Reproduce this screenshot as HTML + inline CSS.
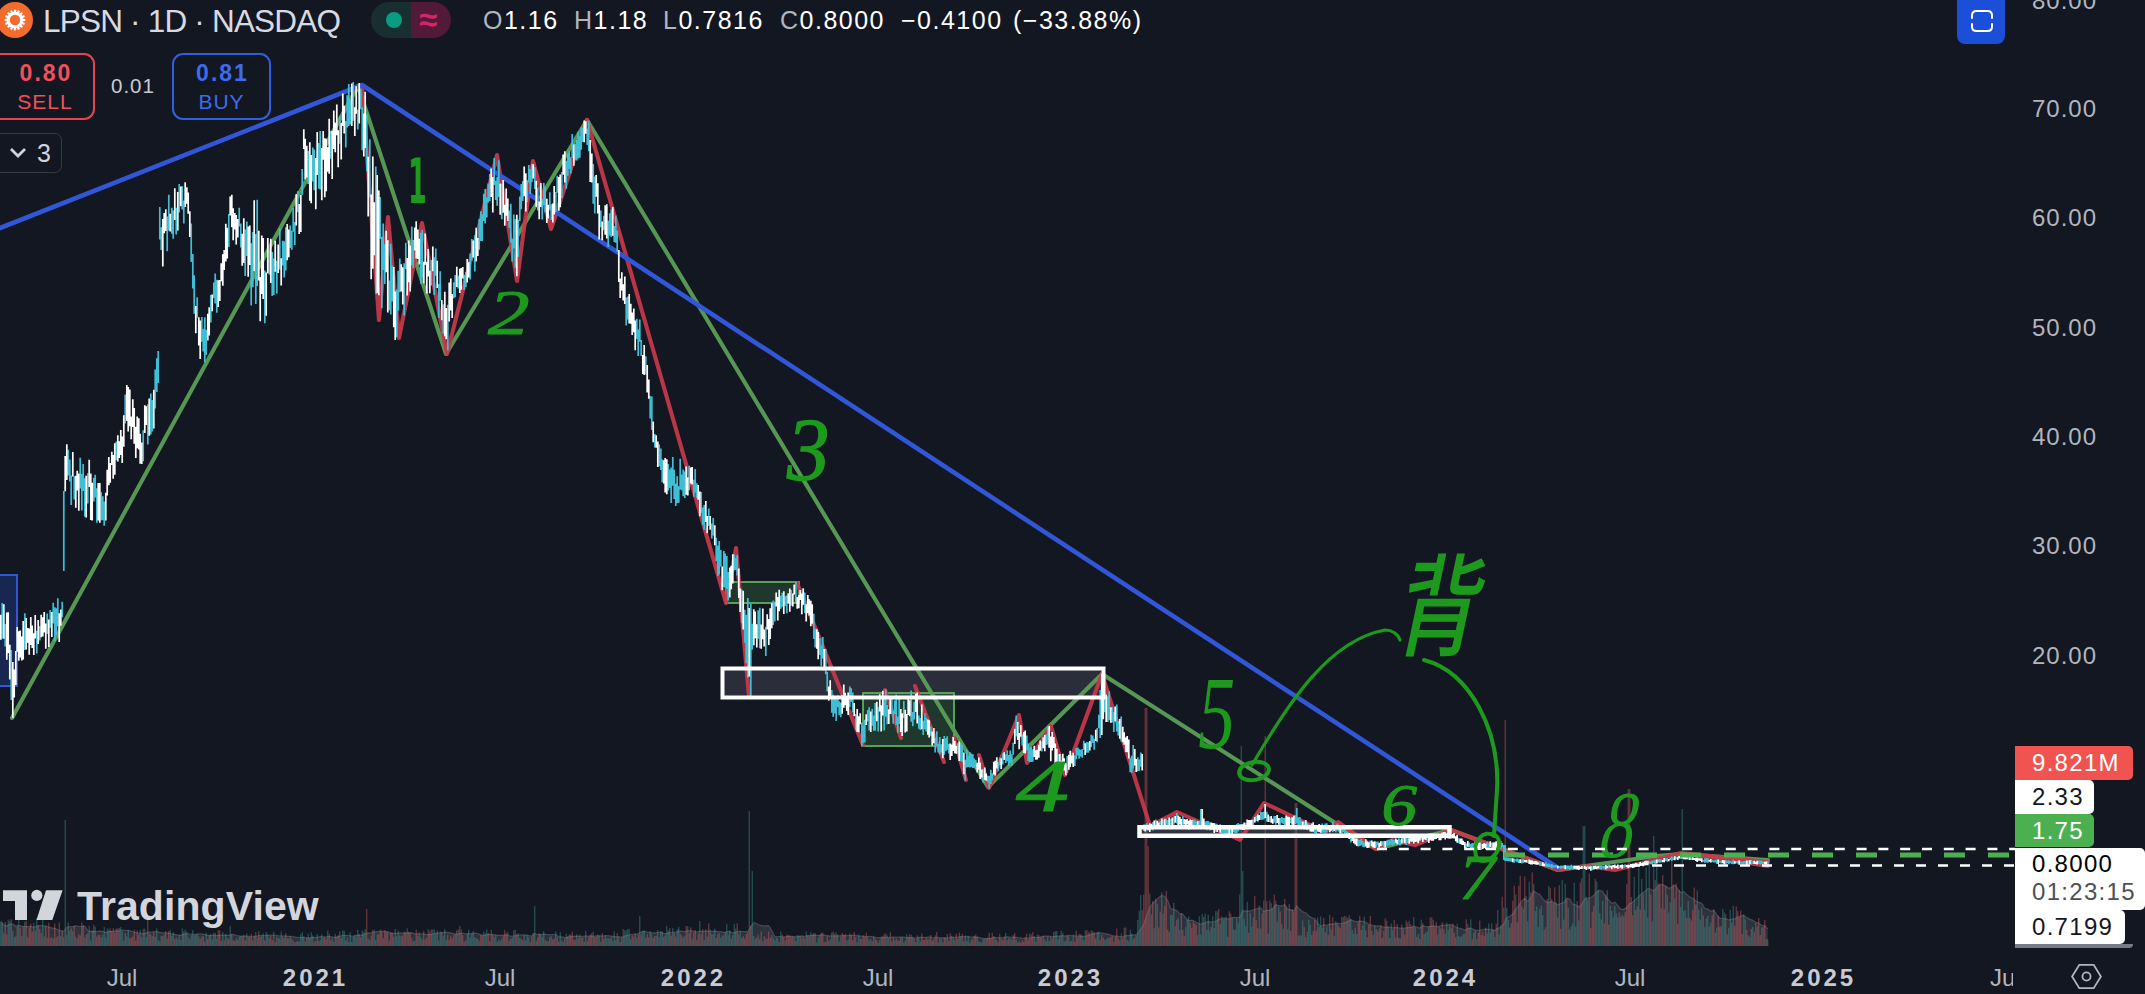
<!DOCTYPE html>
<html><head><meta charset="utf-8"><title>LPSN 1D NASDAQ</title>
<style>
*{margin:0;padding:0;box-sizing:border-box}
html,body{width:2145px;height:994px;overflow:hidden;background:#131722;font-family:"Liberation Sans",Arial,sans-serif;color:#d1d4dc}
.a{position:absolute;white-space:pre;line-height:1}
.pl{position:absolute;left:2032px;font-size:24px;color:#b2b5be;letter-spacing:1px;line-height:1}
.xl{position:absolute;top:966px;font-size:24px;color:#b2b5be;line-height:1;transform:translateX(-50%)}
.xl.b{font-weight:bold;color:#c8cbd4;letter-spacing:3px;margin-left:1.5px}
.rl{position:absolute;left:2015px;font-size:24px;line-height:1;padding-left:17px;letter-spacing:1.3px}
</style></head><body>
<svg width="2145" height="994" viewBox="0 0 2145 994" style="position:absolute;left:0;top:0">
<path d="M0 946L0.8 921.0L3.8 925.1L6.8 926.0L9.8 924.0L12.8 924.0L15.8 926.3L18.8 925.3L21.8 926.1L24.8 926.4L27.8 926.6L30.8 926.4L33.8 927.4L36.8 926.1L39.8 925.5L42.8 925.9L45.8 925.9L48.8 927.2L51.8 927.9L54.8 928.3L57.8 929.7L60.8 930.7L63.8 931.2L66.8 927.4L69.8 926.7L72.8 926.6L75.8 925.7L78.8 926.5L81.8 926.5L84.8 926.2L87.8 930.7L90.8 931.3L93.8 931.1L96.8 931.5L99.8 931.1L102.8 931.3L105.8 932.5L108.8 931.5L111.8 931.5L114.8 930.8L117.8 931.2L120.8 930.0L123.8 930.0L126.8 930.5L129.8 930.7L132.8 931.8L135.8 932.6L138.8 932.9L141.8 933.6L144.8 933.6L147.8 932.1L150.8 932.2L153.8 931.7L156.8 931.6L159.8 932.3L162.8 932.8L165.8 932.8L168.8 933.1L171.8 934.2L174.8 934.3L177.8 934.9L180.8 935.3L183.8 934.1L186.8 933.5L189.8 933.9L192.8 934.2L195.8 934.4L198.8 933.9L201.8 933.9L204.8 934.6L207.8 935.3L210.8 935.4L213.8 935.2L216.8 935.7L219.8 935.1L222.8 935.0L225.8 935.1L228.8 935.3L231.8 934.3L234.8 934.8L237.8 935.7L240.8 936.0L243.8 936.0L246.8 936.1L249.8 936.3L252.8 936.9L255.8 936.4L258.8 935.7L261.8 935.4L264.8 935.5L267.8 934.9L270.8 935.2L273.8 935.2L276.8 935.5L279.8 935.9L282.8 935.9L285.8 936.1L288.8 936.3L291.8 936.4L294.8 936.9L297.8 937.5L300.8 937.6L303.8 937.5L306.8 937.8L309.8 937.8L312.8 937.3L315.8 937.6L318.8 936.9L321.8 936.4L324.8 937.0L327.8 936.5L330.8 936.6L333.8 937.3L336.8 936.8L339.8 936.2L342.8 935.4L345.8 935.3L348.8 935.5L351.8 936.2L354.8 935.8L357.8 935.1L360.8 935.1L363.8 934.6L366.8 933.0L369.8 933.1L372.8 932.4L375.8 931.8L378.8 931.6L381.8 931.4L384.8 931.4L387.8 931.6L390.8 933.4L393.8 933.0L396.8 933.3L399.8 932.8L402.8 933.3L405.8 932.9L408.8 932.8L411.8 932.7L414.8 933.9L417.8 933.9L420.8 934.0L423.8 933.9L426.8 934.6L429.8 934.6L432.8 934.2L435.8 933.0L438.8 933.1L441.8 932.8L444.8 932.0L447.8 932.3L450.8 932.9L453.8 933.7L456.8 934.1L459.8 933.5L462.8 933.0L465.8 934.0L468.8 933.6L471.8 933.4L474.8 933.0L477.8 933.5L480.8 934.7L483.8 935.5L486.8 934.5L489.8 934.6L492.8 934.4L495.8 934.9L498.8 935.3L501.8 935.3L504.8 934.9L507.8 935.0L510.8 936.2L513.8 935.9L516.8 935.4L519.8 935.0L522.8 934.9L525.8 934.9L528.8 935.6L531.8 936.0L534.8 933.4L537.8 934.7L540.8 934.7L543.8 934.1L546.8 934.5L549.8 934.7L552.8 934.5L555.8 934.5L558.8 936.7L561.8 936.8L564.8 937.5L567.8 937.4L570.8 936.4L573.8 936.3L576.8 936.1L579.8 936.4L582.8 936.4L585.8 935.8L588.8 936.2L591.8 936.0L594.8 936.2L597.8 935.6L600.8 935.9L603.8 935.9L606.8 935.5L609.8 935.8L612.8 936.3L615.8 936.8L618.8 936.5L621.8 937.2L624.8 936.1L627.8 935.0L630.8 934.5L633.8 934.2L636.8 934.2L639.8 932.6L642.8 931.6L645.8 931.7L648.8 932.4L651.8 932.9L654.8 932.9L657.8 932.6L660.8 932.3L663.8 933.6L666.8 933.6L669.8 932.7L672.8 932.4L675.8 932.2L678.8 931.1L681.8 931.1L684.8 931.9L687.8 930.5L690.8 930.8L693.8 931.3L696.8 932.0L699.8 931.2L702.8 931.4L705.8 931.1L708.8 931.0L711.8 931.3L714.8 931.1L717.8 931.7L720.8 931.5L723.8 932.6L726.8 931.7L729.8 931.6L732.8 933.1L735.8 932.0L738.8 931.4L741.8 931.5L744.8 931.6L747.8 931.5L750.8 926.8L753.8 922.5L756.8 923.7L759.8 925.2L762.8 925.8L765.8 925.8L768.8 925.7L771.8 930.9L774.8 936.5L777.8 936.5L780.8 936.7L783.8 936.8L786.8 936.6L789.8 936.1L792.8 936.4L795.8 936.8L798.8 936.3L801.8 935.8L804.8 936.4L807.8 935.7L810.8 935.5L813.8 935.2L816.8 935.3L819.8 935.1L822.8 934.7L825.8 935.4L828.8 935.8L831.8 935.9L834.8 935.8L837.8 935.9L840.8 935.7L843.8 935.7L846.8 935.7L849.8 935.4L852.8 935.0L855.8 935.4L858.8 936.1L861.8 936.2L864.8 936.4L867.8 936.5L870.8 936.4L873.8 937.0L876.8 937.5L879.8 937.7L882.8 937.7L885.8 937.2L888.8 937.5L891.8 937.2L894.8 937.0L897.8 937.4L900.8 937.0L903.8 937.2L906.8 937.6L909.8 937.7L912.8 937.8L915.8 938.0L918.8 937.5L921.8 937.1L924.8 937.5L927.8 937.1L930.8 937.2L933.8 938.0L936.8 937.4L939.8 937.6L942.8 937.8L945.8 937.9L948.8 937.7L951.8 937.1L954.8 937.3L957.8 937.2L960.8 936.7L963.8 936.6L966.8 936.4L969.8 936.8L972.8 937.1L975.8 936.9L978.8 937.3L981.8 938.2L984.8 938.7L987.8 938.7L990.8 938.3L993.8 937.4L996.8 937.6L999.8 937.9L1002.8 937.6L1005.8 936.8L1008.8 936.9L1011.8 937.4L1014.8 937.2L1017.8 937.7L1020.8 937.8L1023.8 938.5L1026.8 938.0L1029.8 938.0L1032.8 937.3L1035.8 937.5L1038.8 937.3L1041.8 936.6L1044.8 936.1L1047.8 936.1L1050.8 936.4L1053.8 936.6L1056.8 936.1L1059.8 936.0L1062.8 935.5L1065.8 936.1L1068.8 935.4L1071.8 935.7L1074.8 935.8L1077.8 936.2L1080.8 936.0L1083.8 936.7L1086.8 935.7L1089.8 934.9L1092.8 933.8L1095.8 933.4L1098.8 932.8L1101.8 933.1L1104.8 933.7L1107.8 934.1L1110.8 935.0L1113.8 936.0L1116.8 936.1L1119.8 936.7L1122.8 936.7L1125.8 935.5L1128.8 935.6L1131.8 934.8L1134.8 935.1L1137.8 933.4L1140.8 929.2L1143.8 924.3L1146.8 915.0L1149.8 907.4L1152.8 903.5L1155.8 900.3L1158.8 897.4L1161.8 895.5L1164.8 896.5L1167.8 900.7L1170.8 908.7L1173.8 909.4L1176.8 910.6L1179.8 913.8L1182.8 914.0L1185.8 918.0L1188.8 920.8L1191.8 920.1L1194.8 921.2L1197.8 923.3L1200.8 924.2L1203.8 923.4L1206.8 921.8L1209.8 921.7L1212.8 922.0L1215.8 921.3L1218.8 919.3L1221.8 918.5L1224.8 917.8L1227.8 919.4L1230.8 918.0L1233.8 917.3L1236.8 917.5L1239.8 917.1L1242.8 910.4L1245.8 911.1L1248.8 911.1L1251.8 910.5L1254.8 909.2L1257.8 908.5L1260.8 908.0L1263.8 911.8L1266.8 910.1L1269.8 910.6L1272.8 908.2L1275.8 904.8L1278.8 905.6L1281.8 905.8L1284.8 904.8L1287.8 909.6L1290.8 909.6L1293.8 910.9L1296.8 905.9L1299.8 909.3L1302.8 911.9L1305.8 912.7L1308.8 916.0L1311.8 917.8L1314.8 918.6L1317.8 923.5L1320.8 926.4L1323.8 924.6L1326.8 925.4L1329.8 924.1L1332.8 924.2L1335.8 923.6L1338.8 923.5L1341.8 923.5L1344.8 922.7L1347.8 921.6L1350.8 919.7L1353.8 921.1L1356.8 921.7L1359.8 921.2L1362.8 921.3L1365.8 922.2L1368.8 924.3L1371.8 925.2L1374.8 926.0L1377.8 925.9L1380.8 925.8L1383.8 927.4L1386.8 927.2L1389.8 927.0L1392.8 927.9L1395.8 927.3L1398.8 927.9L1401.8 928.1L1404.8 928.1L1407.8 927.7L1410.8 927.5L1413.8 926.2L1416.8 927.2L1419.8 928.0L1422.8 925.6L1425.8 926.5L1428.8 926.7L1431.8 926.1L1434.8 925.9L1437.8 926.8L1440.8 925.7L1443.8 925.2L1446.8 925.1L1449.8 924.5L1452.8 925.0L1455.8 927.3L1458.8 928.0L1461.8 928.8L1464.8 930.0L1467.8 928.6L1470.8 928.2L1473.8 929.6L1476.8 930.5L1479.8 930.0L1482.8 929.6L1485.8 929.1L1488.8 929.4L1491.8 929.7L1494.8 930.3L1497.8 928.2L1500.8 927.3L1503.8 923.8L1506.8 917.2L1509.8 916.3L1512.8 914.0L1515.8 909.0L1518.8 905.3L1521.8 900.9L1524.8 898.3L1527.8 901.4L1530.8 897.6L1533.8 891.0L1536.8 893.1L1539.8 894.5L1542.8 898.7L1545.8 901.6L1548.8 902.5L1551.8 901.4L1554.8 903.1L1557.8 904.9L1560.8 903.5L1563.8 902.4L1566.8 898.1L1569.8 898.9L1572.8 904.3L1575.8 904.8L1578.8 907.0L1581.8 904.1L1584.8 898.7L1587.8 898.2L1590.8 897.8L1593.8 895.2L1596.8 891.9L1599.8 890.2L1602.8 891.4L1605.8 896.6L1608.8 900.2L1611.8 903.2L1614.8 902.1L1617.8 905.3L1620.8 909.4L1623.8 909.3L1626.8 907.3L1629.8 903.6L1632.8 902.3L1635.8 899.4L1638.8 896.3L1641.8 893.4L1644.8 891.5L1647.8 888.5L1650.8 889.2L1653.8 890.9L1656.8 887.7L1659.8 884.3L1662.8 884.7L1665.8 886.2L1668.8 888.3L1671.8 887.2L1674.8 884.9L1677.8 889.2L1680.8 892.6L1683.8 891.4L1686.8 894.4L1689.8 897.1L1692.8 898.2L1695.8 901.1L1698.8 902.4L1701.8 903.3L1704.8 908.2L1707.8 909.1L1710.8 911.3L1713.8 910.3L1716.8 914.7L1719.8 918.1L1722.8 918.5L1725.8 918.8L1728.8 919.9L1731.8 919.2L1734.8 918.8L1737.8 917.0L1740.8 915.9L1743.8 915.6L1746.8 917.5L1749.8 919.1L1752.8 920.4L1755.8 922.3L1758.8 923.1L1761.8 925.5L1764.8 925.7L1767.8 928.8L1767.8 946Z" fill="rgba(120,123,134,0.28)"/>
<path d="M0.8 921.0L3.8 925.1L6.8 926.0L9.8 924.0L12.8 924.0L15.8 926.3L18.8 925.3L21.8 926.1L24.8 926.4L27.8 926.6L30.8 926.4L33.8 927.4L36.8 926.1L39.8 925.5L42.8 925.9L45.8 925.9L48.8 927.2L51.8 927.9L54.8 928.3L57.8 929.7L60.8 930.7L63.8 931.2L66.8 927.4L69.8 926.7L72.8 926.6L75.8 925.7L78.8 926.5L81.8 926.5L84.8 926.2L87.8 930.7L90.8 931.3L93.8 931.1L96.8 931.5L99.8 931.1L102.8 931.3L105.8 932.5L108.8 931.5L111.8 931.5L114.8 930.8L117.8 931.2L120.8 930.0L123.8 930.0L126.8 930.5L129.8 930.7L132.8 931.8L135.8 932.6L138.8 932.9L141.8 933.6L144.8 933.6L147.8 932.1L150.8 932.2L153.8 931.7L156.8 931.6L159.8 932.3L162.8 932.8L165.8 932.8L168.8 933.1L171.8 934.2L174.8 934.3L177.8 934.9L180.8 935.3L183.8 934.1L186.8 933.5L189.8 933.9L192.8 934.2L195.8 934.4L198.8 933.9L201.8 933.9L204.8 934.6L207.8 935.3L210.8 935.4L213.8 935.2L216.8 935.7L219.8 935.1L222.8 935.0L225.8 935.1L228.8 935.3L231.8 934.3L234.8 934.8L237.8 935.7L240.8 936.0L243.8 936.0L246.8 936.1L249.8 936.3L252.8 936.9L255.8 936.4L258.8 935.7L261.8 935.4L264.8 935.5L267.8 934.9L270.8 935.2L273.8 935.2L276.8 935.5L279.8 935.9L282.8 935.9L285.8 936.1L288.8 936.3L291.8 936.4L294.8 936.9L297.8 937.5L300.8 937.6L303.8 937.5L306.8 937.8L309.8 937.8L312.8 937.3L315.8 937.6L318.8 936.9L321.8 936.4L324.8 937.0L327.8 936.5L330.8 936.6L333.8 937.3L336.8 936.8L339.8 936.2L342.8 935.4L345.8 935.3L348.8 935.5L351.8 936.2L354.8 935.8L357.8 935.1L360.8 935.1L363.8 934.6L366.8 933.0L369.8 933.1L372.8 932.4L375.8 931.8L378.8 931.6L381.8 931.4L384.8 931.4L387.8 931.6L390.8 933.4L393.8 933.0L396.8 933.3L399.8 932.8L402.8 933.3L405.8 932.9L408.8 932.8L411.8 932.7L414.8 933.9L417.8 933.9L420.8 934.0L423.8 933.9L426.8 934.6L429.8 934.6L432.8 934.2L435.8 933.0L438.8 933.1L441.8 932.8L444.8 932.0L447.8 932.3L450.8 932.9L453.8 933.7L456.8 934.1L459.8 933.5L462.8 933.0L465.8 934.0L468.8 933.6L471.8 933.4L474.8 933.0L477.8 933.5L480.8 934.7L483.8 935.5L486.8 934.5L489.8 934.6L492.8 934.4L495.8 934.9L498.8 935.3L501.8 935.3L504.8 934.9L507.8 935.0L510.8 936.2L513.8 935.9L516.8 935.4L519.8 935.0L522.8 934.9L525.8 934.9L528.8 935.6L531.8 936.0L534.8 933.4L537.8 934.7L540.8 934.7L543.8 934.1L546.8 934.5L549.8 934.7L552.8 934.5L555.8 934.5L558.8 936.7L561.8 936.8L564.8 937.5L567.8 937.4L570.8 936.4L573.8 936.3L576.8 936.1L579.8 936.4L582.8 936.4L585.8 935.8L588.8 936.2L591.8 936.0L594.8 936.2L597.8 935.6L600.8 935.9L603.8 935.9L606.8 935.5L609.8 935.8L612.8 936.3L615.8 936.8L618.8 936.5L621.8 937.2L624.8 936.1L627.8 935.0L630.8 934.5L633.8 934.2L636.8 934.2L639.8 932.6L642.8 931.6L645.8 931.7L648.8 932.4L651.8 932.9L654.8 932.9L657.8 932.6L660.8 932.3L663.8 933.6L666.8 933.6L669.8 932.7L672.8 932.4L675.8 932.2L678.8 931.1L681.8 931.1L684.8 931.9L687.8 930.5L690.8 930.8L693.8 931.3L696.8 932.0L699.8 931.2L702.8 931.4L705.8 931.1L708.8 931.0L711.8 931.3L714.8 931.1L717.8 931.7L720.8 931.5L723.8 932.6L726.8 931.7L729.8 931.6L732.8 933.1L735.8 932.0L738.8 931.4L741.8 931.5L744.8 931.6L747.8 931.5L750.8 926.8L753.8 922.5L756.8 923.7L759.8 925.2L762.8 925.8L765.8 925.8L768.8 925.7L771.8 930.9L774.8 936.5L777.8 936.5L780.8 936.7L783.8 936.8L786.8 936.6L789.8 936.1L792.8 936.4L795.8 936.8L798.8 936.3L801.8 935.8L804.8 936.4L807.8 935.7L810.8 935.5L813.8 935.2L816.8 935.3L819.8 935.1L822.8 934.7L825.8 935.4L828.8 935.8L831.8 935.9L834.8 935.8L837.8 935.9L840.8 935.7L843.8 935.7L846.8 935.7L849.8 935.4L852.8 935.0L855.8 935.4L858.8 936.1L861.8 936.2L864.8 936.4L867.8 936.5L870.8 936.4L873.8 937.0L876.8 937.5L879.8 937.7L882.8 937.7L885.8 937.2L888.8 937.5L891.8 937.2L894.8 937.0L897.8 937.4L900.8 937.0L903.8 937.2L906.8 937.6L909.8 937.7L912.8 937.8L915.8 938.0L918.8 937.5L921.8 937.1L924.8 937.5L927.8 937.1L930.8 937.2L933.8 938.0L936.8 937.4L939.8 937.6L942.8 937.8L945.8 937.9L948.8 937.7L951.8 937.1L954.8 937.3L957.8 937.2L960.8 936.7L963.8 936.6L966.8 936.4L969.8 936.8L972.8 937.1L975.8 936.9L978.8 937.3L981.8 938.2L984.8 938.7L987.8 938.7L990.8 938.3L993.8 937.4L996.8 937.6L999.8 937.9L1002.8 937.6L1005.8 936.8L1008.8 936.9L1011.8 937.4L1014.8 937.2L1017.8 937.7L1020.8 937.8L1023.8 938.5L1026.8 938.0L1029.8 938.0L1032.8 937.3L1035.8 937.5L1038.8 937.3L1041.8 936.6L1044.8 936.1L1047.8 936.1L1050.8 936.4L1053.8 936.6L1056.8 936.1L1059.8 936.0L1062.8 935.5L1065.8 936.1L1068.8 935.4L1071.8 935.7L1074.8 935.8L1077.8 936.2L1080.8 936.0L1083.8 936.7L1086.8 935.7L1089.8 934.9L1092.8 933.8L1095.8 933.4L1098.8 932.8L1101.8 933.1L1104.8 933.7L1107.8 934.1L1110.8 935.0L1113.8 936.0L1116.8 936.1L1119.8 936.7L1122.8 936.7L1125.8 935.5L1128.8 935.6L1131.8 934.8L1134.8 935.1L1137.8 933.4L1140.8 929.2L1143.8 924.3L1146.8 915.0L1149.8 907.4L1152.8 903.5L1155.8 900.3L1158.8 897.4L1161.8 895.5L1164.8 896.5L1167.8 900.7L1170.8 908.7L1173.8 909.4L1176.8 910.6L1179.8 913.8L1182.8 914.0L1185.8 918.0L1188.8 920.8L1191.8 920.1L1194.8 921.2L1197.8 923.3L1200.8 924.2L1203.8 923.4L1206.8 921.8L1209.8 921.7L1212.8 922.0L1215.8 921.3L1218.8 919.3L1221.8 918.5L1224.8 917.8L1227.8 919.4L1230.8 918.0L1233.8 917.3L1236.8 917.5L1239.8 917.1L1242.8 910.4L1245.8 911.1L1248.8 911.1L1251.8 910.5L1254.8 909.2L1257.8 908.5L1260.8 908.0L1263.8 911.8L1266.8 910.1L1269.8 910.6L1272.8 908.2L1275.8 904.8L1278.8 905.6L1281.8 905.8L1284.8 904.8L1287.8 909.6L1290.8 909.6L1293.8 910.9L1296.8 905.9L1299.8 909.3L1302.8 911.9L1305.8 912.7L1308.8 916.0L1311.8 917.8L1314.8 918.6L1317.8 923.5L1320.8 926.4L1323.8 924.6L1326.8 925.4L1329.8 924.1L1332.8 924.2L1335.8 923.6L1338.8 923.5L1341.8 923.5L1344.8 922.7L1347.8 921.6L1350.8 919.7L1353.8 921.1L1356.8 921.7L1359.8 921.2L1362.8 921.3L1365.8 922.2L1368.8 924.3L1371.8 925.2L1374.8 926.0L1377.8 925.9L1380.8 925.8L1383.8 927.4L1386.8 927.2L1389.8 927.0L1392.8 927.9L1395.8 927.3L1398.8 927.9L1401.8 928.1L1404.8 928.1L1407.8 927.7L1410.8 927.5L1413.8 926.2L1416.8 927.2L1419.8 928.0L1422.8 925.6L1425.8 926.5L1428.8 926.7L1431.8 926.1L1434.8 925.9L1437.8 926.8L1440.8 925.7L1443.8 925.2L1446.8 925.1L1449.8 924.5L1452.8 925.0L1455.8 927.3L1458.8 928.0L1461.8 928.8L1464.8 930.0L1467.8 928.6L1470.8 928.2L1473.8 929.6L1476.8 930.5L1479.8 930.0L1482.8 929.6L1485.8 929.1L1488.8 929.4L1491.8 929.7L1494.8 930.3L1497.8 928.2L1500.8 927.3L1503.8 923.8L1506.8 917.2L1509.8 916.3L1512.8 914.0L1515.8 909.0L1518.8 905.3L1521.8 900.9L1524.8 898.3L1527.8 901.4L1530.8 897.6L1533.8 891.0L1536.8 893.1L1539.8 894.5L1542.8 898.7L1545.8 901.6L1548.8 902.5L1551.8 901.4L1554.8 903.1L1557.8 904.9L1560.8 903.5L1563.8 902.4L1566.8 898.1L1569.8 898.9L1572.8 904.3L1575.8 904.8L1578.8 907.0L1581.8 904.1L1584.8 898.7L1587.8 898.2L1590.8 897.8L1593.8 895.2L1596.8 891.9L1599.8 890.2L1602.8 891.4L1605.8 896.6L1608.8 900.2L1611.8 903.2L1614.8 902.1L1617.8 905.3L1620.8 909.4L1623.8 909.3L1626.8 907.3L1629.8 903.6L1632.8 902.3L1635.8 899.4L1638.8 896.3L1641.8 893.4L1644.8 891.5L1647.8 888.5L1650.8 889.2L1653.8 890.9L1656.8 887.7L1659.8 884.3L1662.8 884.7L1665.8 886.2L1668.8 888.3L1671.8 887.2L1674.8 884.9L1677.8 889.2L1680.8 892.6L1683.8 891.4L1686.8 894.4L1689.8 897.1L1692.8 898.2L1695.8 901.1L1698.8 902.4L1701.8 903.3L1704.8 908.2L1707.8 909.1L1710.8 911.3L1713.8 910.3L1716.8 914.7L1719.8 918.1L1722.8 918.5L1725.8 918.8L1728.8 919.9L1731.8 919.2L1734.8 918.8L1737.8 917.0L1740.8 915.9L1743.8 915.6L1746.8 917.5L1749.8 919.1L1752.8 920.4L1755.8 922.3L1758.8 923.1L1761.8 925.5L1764.8 925.7L1767.8 928.8" fill="none" stroke="rgba(140,143,154,0.35)" stroke-width="1.2"/>
<path d="M3.8 933.3V946.0M5.2 921.9V946.0M6.8 934.6V946.0M11.2 919.2V946.0M15.8 936.5V946.0M17.2 926.4V946.0M20.2 927.8V946.0M23.2 926.6V946.0M26.2 920.9V946.0M27.8 937.3V946.0M29.2 927.8V946.0M30.8 923.7V946.0M32.2 931.8V946.0M35.2 930.7V946.0M38.2 925.4V946.0M41.2 933.1V946.0M44.2 936.5V946.0M45.8 925.9V946.0M48.8 922.8V946.0M50.2 937.6V946.0M53.2 938.5V946.0M54.8 923.4V946.0M56.2 937.4V946.0M59.2 922.4V946.0M62.2 931.1V946.0M63.8 937.3V946.0M71.2 928.4V946.0M74.2 926.2V946.0M78.8 934.1V946.0M80.2 935.7V946.0M81.8 922.4V946.0M83.2 925.1V946.0M86.2 934.6V946.0M93.8 924.9V946.0M96.8 936.6V946.0M98.2 934.9V946.0M99.8 935.0V946.0M110.2 928.4V946.0M111.8 931.0V946.0M113.2 928.2V946.0M114.8 932.9V946.0M116.2 928.6V946.0M119.2 927.8V946.0M125.2 933.1V946.0M129.8 938.2V946.0M131.2 937.7V946.0M132.8 936.6V946.0M134.2 929.7V946.0M135.8 940.5V946.0M137.2 930.7V946.0M138.8 934.8V946.0M143.2 928.7V946.0M147.8 916.0V946.0M150.8 934.4V946.0M153.8 932.4V946.0M155.2 936.7V946.0M162.8 935.9V946.0M165.8 931.0V946.0M168.8 930.9V946.0M171.8 936.0V946.0M174.8 939.1V946.0M183.8 931.3V946.0M189.8 939.2V946.0M195.8 934.6V946.0M200.2 938.6V946.0M203.2 935.9V946.0M204.8 941.9V946.0M207.8 939.0V946.0M209.2 935.3V946.0M218.2 930.2V946.0M219.8 930.0V946.0M221.2 941.0V946.0M224.2 940.3V946.0M228.8 939.0V946.0M231.8 934.4V946.0M233.2 940.1V946.0M234.8 941.1V946.0M237.8 939.9V946.0M242.2 936.3V946.0M243.8 934.9V946.0M245.2 940.1V946.0M248.2 937.3V946.0M249.8 937.0V946.0M251.2 933.8V946.0M254.2 935.3V946.0M258.8 931.1V946.0M260.2 937.0V946.0M264.8 940.6V946.0M270.8 935.8V946.0M272.2 940.2V946.0M275.2 942.1V946.0M276.8 936.7V946.0M282.8 936.8V946.0M285.8 933.2V946.0M287.2 938.1V946.0M290.2 936.2V946.0M294.8 942.2V946.0M297.8 940.8V946.0M299.2 941.8V946.0M306.8 937.4V946.0M309.8 937.9V946.0M314.2 941.9V946.0M315.8 940.9V946.0M318.8 941.0V946.0M324.8 937.1V946.0M326.2 939.3V946.0M329.2 933.7V946.0M330.8 940.1V946.0M335.2 933.9V946.0M338.2 935.1V946.0M341.2 938.0V946.0M345.8 940.4V946.0M359.2 934.2V946.0M360.8 937.2V946.0M366.8 909.0V946.0M371.2 935.6V946.0M372.8 929.8V946.0M378.8 934.1V946.0M380.2 929.5V946.0M381.8 931.5V946.0M383.2 938.2V946.0M384.8 930.2V946.0M386.2 932.1V946.0M389.2 940.6V946.0M390.8 932.1V946.0M392.2 932.9V946.0M402.8 935.3V946.0M404.2 931.5V946.0M405.8 932.5V946.0M408.8 931.7V946.0M410.2 933.1V946.0M413.2 941.4V946.0M416.2 929.7V946.0M417.8 935.5V946.0M422.2 939.4V946.0M423.8 930.9V946.0M426.8 937.4V946.0M428.2 929.4V946.0M429.8 931.3V946.0M431.2 929.6V946.0M437.2 930.5V946.0M441.8 932.0V946.0M447.8 934.6V946.0M449.2 939.8V946.0M450.8 935.8V946.0M452.2 938.4V946.0M455.2 934.2V946.0M456.8 930.3V946.0M459.8 926.0V946.0M461.2 929.4V946.0M462.8 934.9V946.0M464.2 941.7V946.0M465.8 940.4V946.0M479.2 941.2V946.0M480.8 935.0V946.0M482.2 935.6V946.0M488.2 933.0V946.0M489.8 941.5V946.0M491.2 929.8V946.0M492.8 934.9V946.0M497.2 942.0V946.0M503.2 935.7V946.0M504.8 930.0V946.0M506.2 933.4V946.0M510.8 938.8V946.0M516.8 934.1V946.0M521.2 939.1V946.0M522.8 940.3V946.0M530.2 942.1V946.0M531.8 937.1V946.0M533.2 933.0V946.0M536.2 941.1V946.0M537.8 937.5V946.0M539.2 933.0V946.0M545.2 940.1V946.0M546.8 941.3V946.0M549.8 937.2V946.0M552.8 939.4V946.0M554.2 938.7V946.0M557.2 937.2V946.0M558.8 941.8V946.0M564.8 938.4V946.0M567.8 936.3V946.0M569.2 934.5V946.0M570.8 934.6V946.0M572.2 931.7V946.0M573.8 939.8V946.0M575.2 940.1V946.0M578.2 938.5V946.0M579.8 934.6V946.0M582.8 937.4V946.0M588.8 936.8V946.0M590.2 934.7V946.0M591.8 933.1V946.0M594.8 937.0V946.0M596.2 936.9V946.0M602.2 933.1V946.0M603.8 938.6V946.0M611.2 936.9V946.0M617.2 933.1V946.0M620.2 942.0V946.0M623.2 929.1V946.0M632.2 935.3V946.0M635.2 933.7V946.0M638.2 934.7V946.0M641.2 934.1V946.0M647.2 934.1V946.0M648.8 937.3V946.0M653.2 938.2V946.0M654.8 936.0V946.0M657.8 930.1V946.0M663.8 936.9V946.0M665.2 935.5V946.0M669.8 928.2V946.0M671.2 935.6V946.0M674.2 933.0V946.0M675.8 936.5V946.0M680.2 933.5V946.0M683.2 937.7V946.0M686.2 926.1V946.0M689.2 933.3V946.0M690.8 927.2V946.0M693.8 932.9V946.0M695.2 930.0V946.0M696.8 940.2V946.0M698.2 933.7V946.0M702.8 929.0V946.0M705.8 929.1V946.0M708.8 923.4V946.0M711.8 934.2V946.0M716.2 937.8V946.0M717.8 934.2V946.0M725.2 932.6V946.0M731.2 938.8V946.0M735.8 928.6V946.0M737.2 923.3V946.0M741.8 938.1V946.0M743.2 936.1V946.0M744.8 938.6V946.0M746.2 934.0V946.0M747.8 932.1V946.0M750.8 925.7V946.0M756.8 937.4V946.0M759.8 939.2V946.0M761.2 931.5V946.0M764.2 936.4V946.0M767.2 938.6V946.0M768.8 931.5V946.0M770.2 937.9V946.0M773.2 937.4V946.0M779.2 942.2V946.0M782.2 934.8V946.0M783.8 937.2V946.0M786.8 934.6V946.0M788.2 935.2V946.0M789.8 935.6V946.0M791.2 936.8V946.0M792.8 936.3V946.0M795.8 941.0V946.0M800.2 936.1V946.0M804.8 938.5V946.0M807.8 935.2V946.0M809.2 935.7V946.0M812.2 934.4V946.0M813.8 933.1V946.0M821.2 932.9V946.0M822.8 932.5V946.0M824.2 942.3V946.0M825.8 941.9V946.0M827.2 935.6V946.0M828.8 940.8V946.0M833.2 931.6V946.0M834.8 933.7V946.0M837.8 934.5V946.0M842.2 933.0V946.0M843.8 934.9V946.0M845.2 933.9V946.0M849.8 933.4V946.0M851.2 934.9V946.0M852.8 940.2V946.0M854.2 932.1V946.0M860.2 938.7V946.0M863.2 935.4V946.0M864.8 936.9V946.0M866.2 932.6V946.0M872.2 941.6V946.0M873.8 935.7V946.0M876.8 940.3V946.0M882.8 935.8V946.0M884.2 934.2V946.0M890.2 932.3V946.0M891.8 941.6V946.0M893.2 937.2V946.0M896.2 938.5V946.0M899.2 940.6V946.0M900.8 936.9V946.0M905.2 940.6V946.0M908.2 936.9V946.0M909.8 934.3V946.0M911.2 934.9V946.0M914.2 938.7V946.0M917.2 935.3V946.0M921.8 933.4V946.0M923.2 940.1V946.0M924.8 940.0V946.0M926.2 937.5V946.0M927.8 939.5V946.0M930.8 935.0V946.0M932.2 940.4V946.0M933.8 939.2V946.0M936.8 932.1V946.0M941.2 938.6V946.0M944.2 937.3V946.0M947.2 934.0V946.0M948.8 940.9V946.0M950.2 933.3V946.0M956.2 933.7V946.0M959.2 932.5V946.0M962.2 933.9V946.0M963.8 941.4V946.0M969.8 942.6V946.0M972.8 939.3V946.0M974.2 935.8V946.0M975.8 934.5V946.0M983.2 939.0V946.0M986.2 938.5V946.0M987.8 937.4V946.0M989.2 932.8V946.0M990.8 938.3V946.0M992.2 932.8V946.0M996.8 940.0V946.0M998.2 942.4V946.0M999.8 933.8V946.0M1002.8 940.0V946.0M1004.2 937.4V946.0M1008.8 938.4V946.0M1013.2 935.2V946.0M1014.8 932.9V946.0M1017.8 942.5V946.0M1019.2 941.3V946.0M1020.8 942.5V946.0M1022.2 940.3V946.0M1023.8 941.7V946.0M1025.2 937.0V946.0M1026.8 933.7V946.0M1028.2 939.9V946.0M1029.8 933.4V946.0M1031.2 934.4V946.0M1032.8 932.1V946.0M1035.8 941.5V946.0M1038.8 934.5V946.0M1040.2 937.0V946.0M1041.8 937.6V946.0M1043.2 935.9V946.0M1047.8 936.8V946.0M1052.2 938.2V946.0M1053.8 932.1V946.0M1059.8 935.3V946.0M1065.8 940.3V946.0M1067.2 935.0V946.0M1071.8 941.1V946.0M1074.8 941.8V946.0M1076.2 930.7V946.0M1077.8 937.1V946.0M1080.8 934.3V946.0M1086.8 930.0V946.0M1088.2 931.8V946.0M1092.8 931.2V946.0M1094.2 932.3V946.0M1095.8 938.3V946.0M1100.2 940.0V946.0M1101.8 934.9V946.0M1103.2 937.8V946.0M1109.2 938.0V946.0M1110.8 936.7V946.0M1112.2 936.0V946.0M1115.2 936.7V946.0M1116.8 928.6V946.0M1118.2 938.3V946.0M1122.8 938.2V946.0M1124.2 927.8V946.0M1134.8 937.5V946.0M1142.2 909.8V946.0M1143.8 894.7V946.0M1145.2 708.0V946.0M1146.8 708.0V946.0M1148.2 846.0V946.0M1151.2 914.4V946.0M1152.8 901.0V946.0M1155.8 898.6V946.0M1158.8 927.5V946.0M1160.2 911.8V946.0M1164.8 905.6V946.0M1166.2 890.8V946.0M1167.8 929.5V946.0M1169.2 932.0V946.0M1175.2 926.4V946.0M1176.8 919.9V946.0M1181.2 913.0V946.0M1182.8 929.7V946.0M1184.2 935.8V946.0M1190.2 922.9V946.0M1191.8 927.9V946.0M1193.2 921.6V946.0M1194.8 923.5V946.0M1196.2 924.8V946.0M1203.8 917.0V946.0M1211.2 926.9V946.0M1218.8 909.0V946.0M1223.2 919.2V946.0M1227.8 936.7V946.0M1229.2 911.3V946.0M1230.8 913.7V946.0M1233.8 929.8V946.0M1248.8 932.8V946.0M1254.8 895.8V946.0M1256.2 920.2V946.0M1257.8 928.2V946.0M1262.2 913.2V946.0M1265.2 736.0V946.0M1266.8 901.2V946.0M1269.8 900.7V946.0M1274.2 894.7V946.0M1280.2 911.5V946.0M1284.8 899.0V946.0M1289.2 904.1V946.0M1290.8 931.0V946.0M1292.2 909.5V946.0M1293.8 911.9V946.0M1295.2 803.0V946.0M1296.8 803.0V946.0M1301.2 935.6V946.0M1304.2 927.2V946.0M1305.8 937.2V946.0M1311.8 935.1V946.0M1313.2 931.0V946.0M1314.8 920.0V946.0M1316.2 930.5V946.0M1319.2 927.0V946.0M1323.8 917.9V946.0M1325.2 932.4V946.0M1328.2 934.9V946.0M1329.8 914.9V946.0M1332.8 917.3V946.0M1337.2 922.9V946.0M1338.8 926.4V946.0M1340.2 928.1V946.0M1343.2 916.7V946.0M1344.8 915.8V946.0M1347.8 918.0V946.0M1349.2 915.3V946.0M1355.2 927.7V946.0M1358.2 921.6V946.0M1359.8 915.8V946.0M1361.2 930.0V946.0M1365.8 930.3V946.0M1368.8 925.2V946.0M1370.2 915.9V946.0M1371.8 930.7V946.0M1376.2 929.0V946.0M1377.8 931.5V946.0M1380.8 925.8V946.0M1382.2 937.7V946.0M1385.2 918.3V946.0M1386.8 920.8V946.0M1389.8 938.0V946.0M1394.2 920.0V946.0M1397.2 923.9V946.0M1398.8 938.0V946.0M1401.8 924.7V946.0M1403.2 928.8V946.0M1404.8 934.8V946.0M1406.2 920.4V946.0M1407.8 922.7V946.0M1410.8 924.2V946.0M1412.2 926.3V946.0M1416.8 936.9V946.0M1419.8 938.9V946.0M1422.8 923.0V946.0M1430.2 917.3V946.0M1431.8 917.3V946.0M1433.2 919.8V946.0M1434.8 927.2V946.0M1436.2 922.2V946.0M1440.8 928.5V946.0M1442.2 922.4V946.0M1443.8 929.0V946.0M1449.8 924.8V946.0M1452.8 923.6V946.0M1454.2 932.7V946.0M1455.8 937.3V946.0M1461.8 936.3V946.0M1466.2 919.4V946.0M1469.2 927.5V946.0M1472.2 939.3V946.0M1473.8 932.7V946.0M1478.2 933.1V946.0M1479.8 920.6V946.0M1481.2 935.1V946.0M1482.8 931.9V946.0M1484.2 935.9V946.0M1485.8 927.5V946.0M1493.2 929.8V946.0M1496.2 923.6V946.0M1502.2 896.8V946.0M1505.2 720.0V946.0M1509.8 927.6V946.0M1511.2 923.3V946.0M1512.8 900.8V946.0M1514.2 885.8V946.0M1517.2 922.0V946.0M1518.8 885.9V946.0M1520.2 875.9V946.0M1524.8 876.5V946.0M1530.8 892.3V946.0M1532.2 872.4V946.0M1544.2 929.5V946.0M1547.2 899.0V946.0M1550.2 887.9V946.0M1553.2 903.0V946.0M1554.8 887.3V946.0M1557.8 917.6V946.0M1559.2 885.2V946.0M1560.8 928.7V946.0M1563.8 919.6V946.0M1566.8 899.5V946.0M1569.8 929.5V946.0M1577.2 901.0V946.0M1580.2 882.4V946.0M1581.8 878.5V946.0M1589.2 873.7V946.0M1590.8 928.1V946.0M1592.2 911.8V946.0M1593.8 906.2V946.0M1595.2 878.8V946.0M1604.2 923.4V946.0M1607.2 890.2V946.0M1608.8 924.7V946.0M1619.2 912.6V946.0M1620.8 916.7V946.0M1623.8 916.5V946.0M1625.2 912.1V946.0M1626.8 884.2V946.0M1628.2 789.0V946.0M1629.8 789.0V946.0M1631.2 897.0V946.0M1632.8 915.2V946.0M1635.8 910.1V946.0M1637.2 906.5V946.0M1640.2 909.6V946.0M1643.2 894.2V946.0M1650.8 894.4V946.0M1655.2 880.2V946.0M1658.2 883.3V946.0M1659.8 885.1V946.0M1662.8 875.2V946.0M1664.2 909.4V946.0M1665.8 885.8V946.0M1671.8 860.3V946.0M1673.2 884.5V946.0M1676.2 883.7V946.0M1677.8 923.9V946.0M1679.2 890.0V946.0M1686.8 917.8V946.0M1689.8 917.9V946.0M1691.2 920.6V946.0M1692.8 909.9V946.0M1694.2 887.6V946.0M1695.8 904.5V946.0M1703.2 915.4V946.0M1709.2 926.7V946.0M1712.2 915.2V946.0M1713.8 909.5V946.0M1715.2 932.7V946.0M1718.2 916.2V946.0M1719.8 926.9V946.0M1721.2 926.0V946.0M1725.8 914.2V946.0M1727.2 934.5V946.0M1731.8 922.7V946.0M1734.8 925.9V946.0M1736.2 906.4V946.0M1737.8 911.0V946.0M1739.2 917.2V946.0M1740.8 910.6V946.0M1742.2 934.2V946.0M1746.8 929.8V946.0M1751.2 928.9V946.0M1754.2 932.1V946.0M1757.2 926.3V946.0M1758.8 918.0V946.0M1760.2 934.9V946.0M1761.8 927.4V946.0M1764.8 919.9V946.0M1767.8 939.3V946.0" stroke="rgba(240,105,105,0.5)" stroke-width="1"/>
<path d="M0.8 922.2V946.0M2.2 922.9V946.0M8.2 919.5V946.0M9.8 920.9V946.0M12.8 930.9V946.0M14.2 937.3V946.0M18.8 916.5V946.0M21.8 936.0V946.0M24.8 922.1V946.0M33.8 922.9V946.0M36.8 918.3V946.0M39.8 929.1V946.0M42.8 917.7V946.0M47.2 937.9V946.0M51.8 937.5V946.0M57.8 936.2V946.0M60.8 936.1V946.0M65.2 820.0V946.0M66.8 934.8V946.0M68.2 922.4V946.0M69.8 930.8V946.0M72.8 931.2V946.0M75.8 936.6V946.0M77.2 938.3V946.0M84.8 937.5V946.0M87.8 933.3V946.0M89.2 925.8V946.0M90.8 940.6V946.0M92.2 930.5V946.0M95.2 926.8V946.0M101.2 937.5V946.0M102.8 934.6V946.0M104.2 927.0V946.0M105.8 937.3V946.0M107.2 928.5V946.0M108.8 929.7V946.0M117.8 928.3V946.0M120.8 927.0V946.0M122.2 931.0V946.0M123.8 940.6V946.0M126.8 936.3V946.0M128.2 929.7V946.0M140.2 929.9V946.0M141.8 937.1V946.0M144.8 928.7V946.0M146.2 937.2V946.0M149.2 933.3V946.0M152.2 935.8V946.0M156.8 928.4V946.0M158.2 940.0V946.0M159.8 941.3V946.0M161.2 935.8V946.0M164.2 934.6V946.0M167.2 938.8V946.0M170.2 929.8V946.0M173.2 932.2V946.0M176.2 937.4V946.0M177.8 939.4V946.0M179.2 935.2V946.0M180.8 940.0V946.0M182.2 928.5V946.0M185.2 929.7V946.0M186.8 931.8V946.0M188.2 937.1V946.0M191.2 935.3V946.0M192.8 930.0V946.0M194.2 935.2V946.0M197.2 933.7V946.0M198.8 936.4V946.0M201.8 936.5V946.0M206.2 932.7V946.0M210.8 934.2V946.0M212.2 939.4V946.0M213.8 932.8V946.0M215.2 932.9V946.0M216.8 938.6V946.0M222.8 931.9V946.0M225.8 934.0V946.0M227.2 937.9V946.0M230.2 926.0V946.0M236.2 938.2V946.0M239.2 936.7V946.0M240.8 936.1V946.0M246.8 933.6V946.0M252.8 940.4V946.0M255.8 931.9V946.0M257.2 938.0V946.0M261.8 935.6V946.0M263.2 933.4V946.0M266.2 932.1V946.0M267.8 935.2V946.0M269.2 938.3V946.0M273.8 931.7V946.0M278.2 938.1V946.0M279.8 938.3V946.0M281.2 931.4V946.0M284.2 937.9V946.0M288.8 938.2V946.0M291.8 938.6V946.0M293.2 940.6V946.0M296.2 941.8V946.0M300.8 934.0V946.0M302.2 932.0V946.0M303.8 936.1V946.0M305.2 941.4V946.0M308.2 933.7V946.0M311.2 932.2V946.0M312.8 935.4V946.0M317.2 934.0V946.0M320.2 940.2V946.0M321.8 934.3V946.0M323.2 938.0V946.0M327.8 930.5V946.0M332.2 938.0V946.0M333.8 941.5V946.0M336.8 936.8V946.0M339.8 931.3V946.0M342.8 930.4V946.0M344.2 930.7V946.0M347.2 937.3V946.0M348.8 942.1V946.0M350.2 932.2V946.0M351.8 942.1V946.0M353.2 936.9V946.0M354.8 934.8V946.0M356.2 936.9V946.0M357.8 929.8V946.0M362.2 930.4V946.0M363.8 931.8V946.0M365.2 929.2V946.0M368.2 938.6V946.0M369.8 939.9V946.0M374.2 929.7V946.0M375.8 940.0V946.0M377.2 934.3V946.0M387.8 932.0V946.0M393.8 936.8V946.0M395.2 928.9V946.0M396.8 936.0V946.0M398.2 930.7V946.0M399.8 935.5V946.0M401.2 936.3V946.0M407.2 928.3V946.0M411.8 938.4V946.0M414.8 940.7V946.0M419.2 932.1V946.0M420.8 937.2V946.0M425.2 939.4V946.0M432.8 929.7V946.0M434.2 928.9V946.0M435.8 933.5V946.0M438.8 940.6V946.0M440.2 931.2V946.0M443.2 935.8V946.0M444.8 929.2V946.0M446.2 939.8V946.0M453.8 934.7V946.0M458.2 929.4V946.0M467.2 933.8V946.0M468.8 929.7V946.0M470.2 937.3V946.0M471.8 933.8V946.0M473.2 930.9V946.0M474.8 937.4V946.0M476.2 938.2V946.0M477.8 938.9V946.0M483.8 931.4V946.0M485.2 933.3V946.0M486.8 929.4V946.0M494.2 936.8V946.0M495.8 934.6V946.0M498.8 939.9V946.0M500.2 940.9V946.0M501.8 938.8V946.0M507.8 931.7V946.0M509.2 940.8V946.0M512.2 937.6V946.0M513.8 930.3V946.0M515.2 929.8V946.0M518.2 933.2V946.0M519.8 937.8V946.0M524.2 935.0V946.0M525.8 940.3V946.0M527.2 935.2V946.0M528.8 937.2V946.0M534.8 906.0V946.0M540.8 934.1V946.0M542.2 936.8V946.0M543.8 931.1V946.0M548.2 941.2V946.0M551.2 936.2V946.0M555.8 931.4V946.0M560.2 932.2V946.0M561.8 940.5V946.0M563.2 941.7V946.0M566.2 933.6V946.0M576.8 934.3V946.0M581.2 937.7V946.0M584.2 941.6V946.0M585.8 930.9V946.0M587.2 941.3V946.0M593.2 931.7V946.0M597.8 934.6V946.0M599.2 935.8V946.0M600.8 942.0V946.0M605.2 935.5V946.0M606.8 938.2V946.0M608.2 937.9V946.0M609.8 938.9V946.0M612.8 941.1V946.0M614.2 931.5V946.0M615.8 940.2V946.0M618.8 937.3V946.0M621.8 937.5V946.0M624.8 930.1V946.0M626.2 930.5V946.0M627.8 929.0V946.0M629.2 929.2V946.0M630.8 939.2V946.0M633.8 936.7V946.0M636.8 937.9V946.0M639.8 916.0V946.0M642.8 930.6V946.0M644.2 930.4V946.0M645.8 938.0V946.0M650.2 931.0V946.0M651.8 934.3V946.0M656.2 935.9V946.0M659.2 937.7V946.0M660.8 931.1V946.0M662.2 931.4V946.0M666.8 925.9V946.0M668.2 930.4V946.0M672.8 928.1V946.0M677.2 929.2V946.0M678.8 926.8V946.0M681.8 935.6V946.0M684.8 936.0V946.0M687.8 926.0V946.0M692.2 938.6V946.0M699.8 921.0V946.0M701.2 934.4V946.0M704.2 940.0V946.0M707.2 936.6V946.0M710.2 929.3V946.0M713.2 934.1V946.0M714.8 928.7V946.0M719.2 933.1V946.0M720.8 937.8V946.0M722.2 935.4V946.0M723.8 935.2V946.0M726.8 924.2V946.0M728.2 934.6V946.0M729.8 930.3V946.0M732.8 935.2V946.0M734.2 924.0V946.0M738.8 934.4V946.0M740.2 930.7V946.0M749.2 811.0V946.0M752.2 871.0V946.0M753.8 936.3V946.0M755.2 939.0V946.0M758.2 934.7V946.0M762.8 941.2V946.0M765.8 938.7V946.0M771.8 934.9V946.0M774.8 939.9V946.0M776.2 937.3V946.0M777.8 938.2V946.0M780.8 931.6V946.0M785.2 940.6V946.0M794.2 937.1V946.0M797.2 934.9V946.0M798.8 935.6V946.0M801.8 937.6V946.0M803.2 936.2V946.0M806.2 931.6V946.0M810.8 932.1V946.0M815.2 933.3V946.0M816.8 942.4V946.0M818.2 937.6V946.0M819.8 934.9V946.0M830.2 939.5V946.0M831.8 932.5V946.0M836.2 932.3V946.0M839.2 941.6V946.0M840.8 936.5V946.0M846.8 940.4V946.0M848.2 939.5V946.0M855.8 937.0V946.0M857.2 942.3V946.0M858.8 934.4V946.0M861.8 938.8V946.0M867.8 937.1V946.0M869.2 940.5V946.0M870.8 938.8V946.0M875.2 938.5V946.0M878.2 942.7V946.0M879.8 939.9V946.0M881.2 936.6V946.0M885.8 933.3V946.0M887.2 935.3V946.0M888.8 937.9V946.0M894.8 940.3V946.0M897.8 940.7V946.0M902.2 937.3V946.0M903.8 942.5V946.0M906.8 934.4V946.0M912.8 936.6V946.0M915.8 942.0V946.0M918.8 936.8V946.0M920.2 941.6V946.0M929.2 938.8V946.0M935.2 935.3V946.0M938.2 942.4V946.0M939.8 938.4V946.0M942.8 942.0V946.0M945.8 938.1V946.0M951.8 935.8V946.0M953.2 937.9V946.0M954.8 940.2V946.0M957.8 938.9V946.0M960.8 936.2V946.0M965.2 935.3V946.0M966.8 940.7V946.0M968.2 935.9V946.0M971.2 939.4V946.0M977.2 937.1V946.0M978.8 941.6V946.0M980.2 942.1V946.0M981.8 942.6V946.0M984.8 938.7V946.0M993.8 936.1V946.0M995.2 938.8V946.0M1001.2 938.3V946.0M1005.8 933.0V946.0M1007.2 940.3V946.0M1010.2 938.1V946.0M1011.8 939.6V946.0M1016.2 939.5V946.0M1034.2 936.0V946.0M1037.2 934.8V946.0M1044.8 939.4V946.0M1046.2 941.5V946.0M1049.2 941.2V946.0M1050.8 936.7V946.0M1055.2 931.1V946.0M1056.8 930.9V946.0M1058.2 939.4V946.0M1061.2 930.7V946.0M1062.8 932.9V946.0M1064.2 941.5V946.0M1068.8 936.8V946.0M1070.2 941.2V946.0M1073.2 934.5V946.0M1079.2 933.8V946.0M1082.2 935.3V946.0M1083.8 940.0V946.0M1085.2 930.4V946.0M1089.8 933.0V946.0M1091.2 930.5V946.0M1097.2 932.1V946.0M1098.8 931.5V946.0M1104.8 940.0V946.0M1106.2 939.1V946.0M1107.8 937.7V946.0M1113.8 941.7V946.0M1119.8 940.4V946.0M1121.2 933.5V946.0M1125.8 927.4V946.0M1127.2 939.8V946.0M1128.8 941.3V946.0M1130.2 929.7V946.0M1131.8 933.4V946.0M1133.2 939.2V946.0M1136.2 935.3V946.0M1137.8 920.1V946.0M1139.2 911.1V946.0M1140.8 895.2V946.0M1149.8 893.7V946.0M1154.2 928.4V946.0M1157.2 903.9V946.0M1161.8 892.1V946.0M1163.2 913.7V946.0M1170.8 914.8V946.0M1172.2 915.0V946.0M1173.8 903.0V946.0M1178.2 918.1V946.0M1179.8 929.8V946.0M1185.8 927.3V946.0M1187.2 920.0V946.0M1188.8 916.3V946.0M1197.8 935.1V946.0M1199.2 916.3V946.0M1200.8 934.6V946.0M1202.2 914.1V946.0M1205.2 913.6V946.0M1206.8 930.0V946.0M1208.2 914.7V946.0M1209.8 930.7V946.0M1212.8 916.1V946.0M1214.2 928.1V946.0M1215.8 911.1V946.0M1217.2 911.4V946.0M1220.2 924.1V946.0M1221.8 916.3V946.0M1224.8 918.7V946.0M1226.2 916.6V946.0M1232.2 917.7V946.0M1235.2 929.8V946.0M1236.8 917.7V946.0M1238.2 922.5V946.0M1239.8 894.6V946.0M1241.2 746.0V946.0M1242.8 871.0V946.0M1244.2 919.2V946.0M1245.8 926.3V946.0M1247.2 901.7V946.0M1250.2 913.4V946.0M1251.8 926.9V946.0M1253.2 917.4V946.0M1259.2 905.3V946.0M1260.8 928.8V946.0M1263.8 900.7V946.0M1268.2 933.8V946.0M1271.2 903.2V946.0M1272.8 908.6V946.0M1275.8 900.7V946.0M1277.2 921.5V946.0M1278.8 906.8V946.0M1281.8 924.0V946.0M1283.2 928.7V946.0M1286.2 906.7V946.0M1287.8 929.3V946.0M1298.2 935.7V946.0M1299.8 935.3V946.0M1302.8 920.3V946.0M1307.2 931.8V946.0M1308.8 919.8V946.0M1310.2 924.7V946.0M1317.8 917.4V946.0M1320.8 916.4V946.0M1322.2 927.8V946.0M1326.8 926.6V946.0M1331.2 929.5V946.0M1334.2 935.8V946.0M1335.8 921.0V946.0M1341.8 917.0V946.0M1346.2 916.9V946.0M1350.8 918.7V946.0M1352.2 929.9V946.0M1353.8 933.7V946.0M1356.8 934.2V946.0M1362.8 925.3V946.0M1364.2 916.6V946.0M1367.2 937.2V946.0M1373.2 934.9V946.0M1374.8 925.1V946.0M1379.2 928.5V946.0M1383.8 930.9V946.0M1388.2 926.5V946.0M1391.2 923.5V946.0M1392.8 930.2V946.0M1395.8 937.4V946.0M1400.2 938.2V946.0M1409.2 920.7V946.0M1413.8 917.0V946.0M1415.2 927.1V946.0M1418.2 933.9V946.0M1421.2 919.6V946.0M1424.2 934.0V946.0M1425.8 932.5V946.0M1427.2 931.4V946.0M1428.8 926.4V946.0M1437.8 934.7V946.0M1439.2 927.2V946.0M1445.2 933.7V946.0M1446.8 922.6V946.0M1448.2 929.7V946.0M1451.2 927.7V946.0M1457.2 923.7V946.0M1458.8 935.7V946.0M1460.2 936.9V946.0M1463.2 934.1V946.0M1464.8 933.7V946.0M1467.8 923.5V946.0M1470.8 919.3V946.0M1475.2 930.4V946.0M1476.8 939.1V946.0M1487.2 933.3V946.0M1488.8 923.5V946.0M1490.2 932.5V946.0M1491.8 923.2V946.0M1494.8 936.9V946.0M1497.8 910.0V946.0M1499.2 934.5V946.0M1500.8 925.1V946.0M1503.8 907.6V946.0M1506.8 907.8V946.0M1508.2 920.0V946.0M1515.8 894.8V946.0M1521.8 905.9V946.0M1523.2 908.6V946.0M1526.2 896.2V946.0M1527.8 921.1V946.0M1529.2 881.8V946.0M1533.8 883.8V946.0M1535.2 911.1V946.0M1536.8 906.6V946.0M1538.2 927.2V946.0M1539.8 909.4V946.0M1541.2 905.6V946.0M1542.8 915.1V946.0M1545.8 927.2V946.0M1548.8 886.1V946.0M1551.8 898.9V946.0M1556.2 902.5V946.0M1562.2 880.1V946.0M1565.2 883.7V946.0M1568.2 908.0V946.0M1571.2 926.4V946.0M1572.8 923.6V946.0M1574.2 882.7V946.0M1575.8 926.6V946.0M1578.8 920.4V946.0M1583.2 826.0V946.0M1584.8 826.0V946.0M1586.2 896.7V946.0M1587.8 900.2V946.0M1596.8 881.4V946.0M1598.2 889.8V946.0M1599.8 913.2V946.0M1601.2 919.3V946.0M1602.8 901.0V946.0M1605.8 894.5V946.0M1610.2 905.8V946.0M1611.8 910.8V946.0M1613.2 917.5V946.0M1614.8 906.1V946.0M1616.2 913.4V946.0M1617.8 917.3V946.0M1622.2 914.9V946.0M1634.2 876.8V946.0M1638.8 868.2V946.0M1641.8 879.0V946.0M1644.8 909.9V946.0M1646.2 867.5V946.0M1647.8 917.8V946.0M1649.2 859.1V946.0M1652.2 921.3V946.0M1653.8 836.0V946.0M1656.8 864.7V946.0M1661.2 908.2V946.0M1667.2 894.8V946.0M1668.8 912.5V946.0M1670.2 902.3V946.0M1674.8 898.2V946.0M1680.8 906.9V946.0M1682.2 809.0V946.0M1683.8 911.0V946.0M1685.2 910.0V946.0M1688.2 901.0V946.0M1697.2 890.5V946.0M1698.8 909.7V946.0M1700.2 919.4V946.0M1701.8 907.6V946.0M1704.8 927.2V946.0M1706.2 918.7V946.0M1707.8 915.9V946.0M1710.8 922.5V946.0M1716.8 927.8V946.0M1722.8 908.9V946.0M1724.2 912.4V946.0M1728.8 927.7V946.0M1730.2 909.8V946.0M1733.2 905.6V946.0M1743.8 914.2V946.0M1745.2 919.3V946.0M1748.2 935.4V946.0M1749.8 936.7V946.0M1752.8 927.0V946.0M1755.8 922.9V946.0M1763.2 926.9V946.0M1766.2 938.6V946.0" stroke="rgba(70,170,160,0.5)" stroke-width="1"/>
<rect x="-2" y="575" width="19" height="111" fill="rgba(41,98,255,0.22)" stroke="#3157d8" stroke-width="2"/>
<rect x="722.5" y="668.5" width="381" height="29" fill="rgba(120,123,140,0.24)"/>
<rect x="1139.5" y="827.25" width="310" height="8.5" fill="rgba(120,123,140,0.3)"/>
<rect x="726" y="582" width="73" height="21" fill="rgba(76,175,80,0.22)" stroke="#5fae5c" stroke-width="1.8"/>
<rect x="863" y="693" width="91" height="53" fill="rgba(76,175,80,0.22)" stroke="#5fae5c" stroke-width="1.8"/>
<path d="M12 718L358 86L446 354L587 120L988 787L1102 674L1376 849L1451 830L1558 870L1656 856L1681 854L1768 860" fill="none" stroke="#5a9e56" stroke-width="4.1" stroke-linejoin="round" stroke-linecap="round" opacity="0.95"/>
<path d="M362 86L379 320L388 217L399 338L422 223L447 354L497 155L517 281L533 161L551 229L587 120L726 603L736 548L749 697M797 583L863 745M885 690L901 738M915 686L944 762M954 738L966 780M979 755L989 788L1019 715L1027 763L1051 726L1065 775L1102 674L1150 826L1177 812L1240 840L1264 803L1325 832L1338 822L1376 849L1392 840L1415 845L1451 830L1558 870L1587 866L1615 870L1681 853L1768 862M1681 853L1768 866" fill="none" stroke="#c9384a" stroke-width="4.1" stroke-linejoin="round" stroke-linecap="round" opacity="0.92"/>
<path d="M0 228L362 85L1558 868" fill="none" stroke="#3157d8" stroke-width="4.6" stroke-linejoin="round" stroke-linecap="round"/>
<path d="M2.2 603.0V638.4M5.2 624.1V646.4M11.2 650.0V700.0M24.8 613.2V650.0M36.8 630.7V653.5M39.8 626.0V640.6M47.2 613.4V634.0M50.2 610.1V627.7M53.2 602.8V623.5M54.8 607.2V641.0M56.2 608.2V635.3M57.8 598.2V626.4M62.2 601.8V617.2M63.8 491.0V571.0M68.2 449.8V475.6M69.8 459.4V481.4M71.2 475.6V504.9M74.2 476.3V499.6M80.2 457.7V488.6M81.8 473.8V510.4M83.2 464.1V491.1M84.8 478.2V516.8M87.8 473.2V503.5M93.8 477.8V501.4M95.2 474.8V497.4M96.8 488.3V522.7M101.2 492.3V520.3M102.8 496.3V520.2M104.2 501.5V525.7M116.2 441.4V460.3M125.2 394.5V423.5M143.2 430.3V461.3M147.8 404.3V444.4M150.8 393.5V434.5M152.2 400.1V431.5M155.2 369.4V408.6M156.8 358.3V391.9M158.2 351.0V383.1M159.8 207.0V239.6M161.2 227.2V250.1M167.2 216.5V251.2M168.8 194.7V230.6M171.8 207.8V233.8M173.2 210.5V238.8M176.2 207.7V234.4M179.2 184.0V212.5M182.2 185.9V209.5M183.8 200.4V223.6M191.2 223.6V262.1M192.8 253.9V288.5M194.2 275.3V313.7M197.2 297.3V317.7M201.8 317.0V341.8M203.2 328.8V351.6M204.8 317.2V362.6M206.2 329.8V354.7M210.8 294.9V322.5M213.8 282.5V298.1M215.2 273.5V303.6M216.8 279.8V312.7M228.8 214.0V247.1M239.2 207.7V226.6M240.8 223.6V247.4M245.2 229.3V276.0M246.8 221.6V256.0M251.2 243.2V305.6M252.8 232.0V287.3M255.8 233.9V304.0M257.2 199.8V286.0M264.8 270.6V323.2M269.2 250.3V274.5M272.2 251.9V295.9M273.8 258.6V295.1M276.8 260.7V293.6M279.8 228.2V269.6M282.8 240.8V265.4M284.2 241.3V277.6M285.8 227.2V270.4M290.2 225.4V248.0M291.8 230.8V249.7M293.2 208.1V231.7M294.8 222.0V245.0M297.8 191.2V212.2M302.2 169.0V195.3M308.2 151.0V183.9M312.8 147.4V181.5M314.2 149.5V190.3M318.8 143.0V188.8M320.2 130.9V189.5M330.8 131.1V158.8M339.8 115.8V143.7M345.8 121.1V147.6M347.2 95.2V127.6M348.8 84.0V125.9M350.2 99.5V124.5M353.2 82.0V120.9M357.8 109.8V129.4M360.8 88.7V109.2M362.2 107.3V150.2M366.8 114.2V171.3M369.8 139.2V197.3M375.8 166.5V293.8M380.2 197.0V238.9M381.8 236.7V308.3M383.2 223.6V269.9M384.8 244.2V284.1M389.2 280.5V310.3M390.8 243.8V314.4M392.2 265.6V301.5M396.8 289.5V337.2M398.2 270.8V310.8M399.8 258.6V292.2M404.2 263.2V315.4M405.8 242.8V268.9M411.8 226.5V265.6M413.2 239.9V268.1M420.8 232.7V283.8M422.2 230.1V277.3M431.2 260.0V285.6M434.2 257.3V295.1M435.8 248.6V275.7M438.8 284.0V318.1M440.2 271.3V300.7M443.2 304.2V333.7M447.8 304.8V350.2M453.8 282.3V298.3M455.2 275.1V297.2M458.2 275.7V288.6M464.2 274.9V290.1M465.8 271.9V287.0M470.2 253.4V279.6M471.8 239.0V260.5M474.8 235.3V271.4M479.2 219.1V249.8M480.8 211.2V241.0M482.2 214.3V240.9M483.8 193.8V221.0M485.2 189.0V223.6M486.8 197.4V217.6M488.2 183.4V202.4M489.8 174.1V201.0M494.2 158.1V185.1M495.8 180.7V199.9M497.2 176.8V205.7M498.8 160.3V197.1M501.8 184.0V219.2M509.2 210.5V228.0M510.8 203.7V242.4M512.2 238.7V261.5M513.8 214.5V248.6M515.2 219.1V267.7M518.2 219.4V257.1M519.8 196.5V221.0M521.2 183.9V209.3M522.8 180.9V201.1M527.2 180.2V202.0M528.8 164.9V182.5M530.2 169.1V194.1M531.8 163.8V182.0M534.8 167.3V188.9M537.8 187.6V210.6M542.2 198.7V219.5M543.8 183.0V205.2M545.2 187.0V212.6M549.8 192.2V209.7M551.2 204.3V220.3M555.8 192.1V212.2M557.2 175.8V192.8M561.8 171.9V198.1M566.2 160.7V188.8M567.8 153.4V175.8M569.2 151.0V169.1M570.8 157.2V173.6M572.2 134.1V157.9M575.2 143.4V159.8M576.8 140.1V160.4M578.2 131.7V158.6M579.8 135.8V157.7M581.2 127.2V149.8M582.8 127.8V142.0M587.2 128.6V145.1M588.8 120.7V151.2M593.2 164.1V203.8M594.8 176.4V213.4M600.8 210.5V227.3M603.8 215.8V230.3M608.2 220.8V247.0M609.8 213.2V235.4M611.2 209.6V236.9M614.2 226.1V242.1M615.8 215.5V242.7M617.2 230.5V251.4M626.2 297.4V325.4M627.8 296.6V319.6M636.8 318.7V339.0M638.2 329.4V356.0M639.8 319.6V341.7M641.2 340.0V356.1M645.8 356.3V374.5M650.2 395.9V418.4M651.8 396.4V430.0M654.8 434.0V447.6M659.2 444.4V466.3M660.8 448.6V470.0M662.2 459.5V482.2M668.2 463.9V490.6M669.8 469.5V488.1M671.2 467.4V503.0M672.8 456.9V485.7M674.2 469.7V499.1M675.8 483.5V506.1M677.2 476.3V503.1M678.8 486.3V502.8M680.2 458.8V489.5M681.8 474.4V490.2M683.2 469.4V496.2M684.8 471.4V498.0M689.2 465.7V490.3M693.8 479.8V496.7M695.2 469.1V492.4M696.8 483.2V497.9M701.2 492.0V513.1M702.8 507.5V525.1M704.2 505.0V529.8M708.8 508.5V525.7M711.8 523.5V538.5M713.2 517.9V535.6M716.2 537.8V561.2M717.8 545.5V576.0M719.2 541.0V574.2M720.8 549.9V566.8M723.8 551.1V586.9M725.2 553.5V588.1M726.8 556.0V589.1M728.2 571.9V600.4M734.2 554.4V570.5M735.8 557.7V570.1M737.2 555.1V575.6M741.8 589.6V623.2M744.8 609.8V642.7M746.2 614.7V663.2M747.8 598.0V677.8M750.8 604.0V697.0M752.2 623.7V649.5M758.2 610.2V638.7M759.8 607.8V648.3M765.8 626.7V655.9M773.2 600.4V625.0M774.8 602.2V621.6M780.8 595.7V608.8M782.2 592.7V606.7M785.2 595.9V606.1M786.8 595.4V613.3M791.2 589.9V605.7M795.8 581.4V602.9M804.8 592.4V613.1M813.8 613.8V638.9M815.2 628.6V647.5M819.8 638.2V654.9M821.2 645.4V666.0M822.8 637.1V658.6M825.8 649.1V674.2M827.2 671.9V691.5M831.8 689.9V712.7M833.2 694.8V717.0M834.8 698.6V713.6M836.2 699.3V721.0M837.8 695.2V707.3M839.2 701.3V715.3M840.8 702.6V717.2M849.8 686.4V707.1M851.2 688.2V702.1M852.8 692.6V712.6M855.8 714.1V730.3M861.8 722.6V746.4M863.2 725.8V742.7M864.8 719.7V742.5M867.8 709.9V721.4M869.2 707.3V730.4M872.2 708.8V725.7M873.8 715.5V730.7M875.2 703.1V730.7M878.2 707.2V731.6M884.2 696.9V730.6M885.8 689.4V716.8M887.2 705.1V724.2M891.8 696.7V714.1M893.2 710.6V723.7M894.8 700.6V714.3M896.2 694.5V724.9M897.8 716.5V732.7M899.2 695.7V723.9M903.8 701.1V718.1M911.2 690.6V721.7M912.8 712.0V726.3M914.2 701.8V719.5M918.8 715.4V728.7M920.2 718.1V730.0M923.2 720.8V734.9M924.8 713.3V729.3M926.2 717.7V731.5M930.8 726.5V735.8M935.2 737.8V752.6M936.8 731.2V746.3M938.2 743.9V752.6M939.8 737.0V754.3M941.2 744.2V752.6M944.2 736.0V754.8M945.8 738.2V751.3M947.2 736.3V749.8M948.8 744.1V753.5M957.8 743.2V753.8M960.8 743.0V761.0M962.2 744.9V762.0M965.2 759.7V780.6M966.8 749.9V767.4M968.2 755.9V766.9M969.8 752.0V767.5M971.2 753.6V767.1M972.8 754.2V768.0M974.2 758.6V767.7M975.8 760.1V769.0M983.2 768.9V782.8M987.8 775.8V782.5M989.2 775.9V788.6M990.8 769.8V784.1M992.2 773.2V780.3M998.2 762.2V771.2M999.8 757.5V765.0M1002.8 753.7V764.6M1005.8 754.2V763.1M1007.2 750.3V761.3M1008.8 754.9V766.1M1010.2 750.6V763.0M1011.8 754.2V765.7M1013.2 742.8V754.8M1016.2 715.6V736.6M1022.2 734.4V745.4M1026.8 735.4V750.2M1028.2 743.5V760.9M1029.8 747.6V762.0M1031.2 746.9V762.0M1032.8 749.2V761.8M1041.8 741.8V751.4M1046.2 734.2V744.9M1047.8 727.1V744.6M1058.2 754.6V770.0M1067.2 756.0V772.9M1074.8 755.4V765.9M1076.2 748.1V759.2M1077.8 747.4V755.6M1079.2 749.3V758.8M1080.8 749.7V756.6M1082.2 748.9V757.8M1083.8 740.8V749.7M1086.8 741.9V752.7M1088.2 742.2V752.7M1091.2 734.8V747.1M1092.8 735.5V743.1M1094.2 738.8V749.8M1097.2 728.1V742.3M1098.8 714.8V728.2M1100.2 690.0V738.0M1104.8 691.7V712.2M1107.8 696.3V722.0M1109.2 691.2V720.2M1112.2 707.2V722.5M1113.8 711.9V732.1M1116.8 704.5V731.6M1118.2 721.3V735.5M1121.2 716.6V741.5M1130.2 758.3V772.2M1131.8 755.8V772.7M1133.2 745.0V768.6M1137.8 757.3V771.3M1139.2 759.5V770.9M1140.8 752.5V766.8M1143.8 824.4V830.9M1146.8 822.9V830.4M1152.8 822.2V830.5M1155.8 819.4V827.9M1160.2 820.9V828.1M1163.2 819.8V825.0M1166.2 819.1V827.8M1167.8 819.8V826.9M1170.8 818.8V826.4M1173.8 816.6V824.8M1176.8 813.0V823.6M1182.8 816.2V825.3M1193.2 819.5V825.7M1194.8 819.4V825.9M1196.2 821.4V827.2M1199.2 820.7V827.6M1200.8 809.0V828.2M1205.2 821.4V826.6M1206.8 821.1V830.3M1208.2 821.0V829.3M1209.8 822.3V830.6M1215.8 823.4V831.8M1221.8 825.4V833.2M1223.2 825.1V832.9M1224.8 826.2V833.8M1226.2 826.2V834.1M1227.8 827.1V834.1M1230.8 829.1V834.6M1233.8 826.1V832.3M1235.2 826.4V832.9M1236.8 823.9V833.2M1238.2 822.9V831.6M1239.8 823.9V829.5M1245.8 822.7V828.3M1253.2 819.4V825.2M1256.2 815.8V821.0M1260.8 811.8V820.1M1262.2 811.9V819.7M1263.8 811.7V819.5M1266.8 811.8V821.5M1269.8 816.6V821.9M1274.2 816.0V822.5M1275.8 816.1V824.8M1280.2 818.0V825.4M1281.8 817.0V822.8M1283.2 818.0V824.0M1284.8 817.8V826.5M1290.8 818.0V823.3M1295.2 815.3V823.9M1296.8 808.0V823.6M1298.2 817.5V825.4M1299.8 817.1V825.8M1301.2 820.5V827.1M1304.2 821.4V829.7M1307.2 822.8V830.3M1308.8 823.4V829.2M1314.8 825.9V832.9M1316.2 825.0V834.5M1322.2 823.6V832.7M1323.8 826.6V832.4M1325.2 823.4V832.8M1326.8 823.3V832.6M1328.2 825.1V830.2M1332.8 822.1V832.0M1335.8 827.2V832.3M1337.2 823.4V830.8M1338.8 825.9V831.7M1341.8 825.6V835.0M1343.2 827.0V832.3M1344.8 827.6V834.4M1346.2 831.3V837.5M1347.8 831.9V837.5M1350.8 836.1V842.5M1358.2 840.0V846.5M1359.8 840.0V846.1M1361.2 839.0V845.2M1362.8 840.9V846.8M1364.2 842.4V847.0M1370.2 840.6V845.6M1376.2 841.7V847.1M1377.8 841.4V845.6M1382.2 841.3V845.5M1383.8 840.9V846.5M1386.8 840.4V845.9M1388.2 839.7V845.2M1389.8 840.3V844.4M1391.2 839.0V844.6M1392.8 839.7V845.7M1394.2 840.0V844.2M1398.8 837.7V844.5M1400.2 839.3V845.6M1403.2 837.6V842.6M1406.2 837.8V845.0M1407.8 836.8V842.9M1421.2 835.2V840.0M1427.2 837.0V841.6M1437.8 833.4V837.7M1446.8 833.7V838.1M1451.2 834.4V838.8M1458.8 838.3V843.2M1466.2 843.4V849.2M1469.2 842.4V847.0M1470.8 843.9V849.3M1472.2 843.1V849.0M1473.8 843.2V848.0M1481.2 843.7V849.9M1487.2 841.7V849.0M1488.8 843.3V848.6M1491.8 842.4V848.8M1497.8 841.6V849.4M1499.2 841.9V849.4M1500.8 841.1V849.0M1502.2 843.0V847.0M1503.8 845.0V860.1M1505.2 845.0V861.1M1506.8 857.5V861.1M1508.2 857.6V861.2M1509.8 857.9V861.2M1511.2 858.0V861.8M1514.2 858.4V862.8M1515.8 859.2V861.3M1517.2 858.3V862.3M1518.8 859.2V862.9M1521.8 859.3V863.4M1523.2 858.8V863.0M1527.8 859.8V862.9M1539.8 861.3V865.4M1541.2 862.4V866.0M1545.8 862.3V866.6M1547.2 863.8V867.1M1548.8 863.4V866.9M1550.2 864.6V867.0M1551.8 864.0V868.3M1553.2 865.2V867.5M1554.8 865.4V867.6M1556.2 865.0V867.6M1559.2 866.2V868.2M1560.8 865.6V868.7M1562.2 865.7V868.0M1563.8 865.2V868.6M1566.8 865.5V868.9M1568.2 865.5V869.0M1569.8 865.7V870.0M1571.2 864.7V869.3M1572.8 865.8V869.6M1583.2 866.4V868.5M1587.8 865.5V869.6M1592.2 866.2V870.3M1599.8 865.4V868.9M1601.2 865.8V869.5M1602.8 866.2V868.4M1604.2 866.1V868.7M1608.8 864.6V868.5M1619.2 865.0V868.6M1623.8 864.9V867.5M1625.2 864.3V867.2M1637.2 863.1V866.0M1638.8 863.1V866.8M1649.2 861.5V863.7M1650.8 861.5V864.2M1652.2 860.7V864.5M1653.8 860.4V863.1M1655.2 859.8V864.4M1658.2 859.6V862.5M1659.8 859.0V862.8M1661.2 859.4V862.2M1665.8 858.2V861.0M1667.2 858.0V861.8M1670.2 857.6V860.1M1671.8 856.6V861.1M1673.2 857.3V859.9M1676.2 856.7V859.2M1680.8 855.1V858.9M1688.2 855.5V859.8M1691.2 857.4V859.9M1703.2 859.8V861.8M1704.8 858.2V862.7M1706.2 858.2V862.4M1707.8 858.3V862.8M1712.2 859.8V862.1M1713.8 860.2V862.6M1715.2 859.9V862.5M1716.8 859.7V864.0M1719.8 860.7V862.8M1721.2 860.5V863.6M1725.8 860.0V864.4M1727.2 860.7V863.3M1728.8 860.3V864.3M1730.2 861.2V863.2M1731.8 861.5V863.9M1733.2 859.7V864.2M1736.2 860.9V863.2M1737.8 861.1V863.5M1740.8 861.2V863.6M1742.2 861.4V864.4M1743.8 860.9V864.5M1745.2 860.9V863.7M1748.2 860.4V864.3M1751.2 859.9V864.5M1752.8 861.3V863.7M1758.8 860.6V864.1M1760.2 860.6V864.5M1761.8 860.8V864.3M1763.2 861.2V863.8M1767.8 860.8V864.7" stroke="#3fbfd6" stroke-width="1.7"/>
<path d="M0.8 614.8V639.8M3.8 604.3V638.7M6.8 612.5V659.8M8.2 612.2V653.2M9.8 644.7V679.6M12.8 662.0V718.0M14.2 669.6V697.6M15.8 651.1V684.9M17.2 627.1V651.7M18.8 631.2V660.7M20.2 630.4V657.6M21.8 636.6V660.4M23.2 621.0V659.4M26.2 618.1V649.6M27.8 627.9V642.8M29.2 628.6V654.7M30.8 616.9V645.0M32.2 625.6V648.1M33.8 633.3V654.9M35.2 615.0V638.4M38.2 619.9V644.0M41.2 614.8V637.2M42.8 617.3V636.4M44.2 611.9V632.4M45.8 623.5V648.8M48.8 619.6V647.1M51.8 611.9V637.1M59.2 613.2V642.0M60.8 609.4V625.7M65.2 456.1V491.3M66.8 444.3V480.1M72.8 452.0V476.6M75.8 475.7V507.8M77.2 470.8V490.5M78.8 473.6V510.8M86.2 475.7V517.6M89.2 459.8V487.1M90.8 473.6V519.9M92.2 482.8V520.6M98.2 482.9V520.5M99.8 483.0V522.7M105.8 492.7V520.6M107.2 469.8V495.4M108.8 457.0V485.3M110.2 463.0V482.8M111.8 451.7V465.0M113.2 454.9V478.8M114.8 443.2V474.8M117.8 435.2V461.6M119.2 441.2V458.0M120.8 429.9V455.1M122.2 436.5V462.9M123.8 415.3V446.8M126.8 385.0V421.0M128.2 386.9V431.4M129.8 389.4V426.2M131.2 416.4V439.2M132.8 399.2V427.0M134.2 407.9V443.8M135.8 426.7V458.0M137.2 416.4V448.3M138.8 418.3V449.4M140.2 433.8V463.8M141.8 442.4V464.1M144.8 405.3V433.1M146.2 406.3V425.1M149.2 398.6V435.8M153.8 389.8V428.5M162.8 219.1V266.4M164.2 213.1V233.2M165.8 209.2V231.1M170.2 213.8V231.5M174.8 188.2V219.9M177.8 192.0V230.4M180.8 186.6V206.2M185.2 182.2V207.1M186.8 187.3V203.8M188.2 192.4V213.7M189.8 211.2V237.1M195.8 305.9V333.2M198.8 317.2V345.4M200.2 320.6V358.9M207.8 313.7V340.4M209.2 307.2V335.6M212.2 294.5V311.3M218.2 280.2V307.0M219.8 280.1V301.1M221.2 263.2V281.2M222.8 254.2V285.8M224.2 249.9V270.0M225.8 223.7V261.5M227.2 227.7V258.5M230.2 196.5V215.4M231.8 194.7V227.2M233.2 208.2V240.2M234.8 213.1V229.4M236.2 214.9V244.6M237.8 219.0V237.4M242.2 233.8V265.7M243.8 218.2V262.9M248.2 226.5V276.8M249.8 225.4V265.1M254.2 200.3V271.3M258.8 230.8V280.6M260.2 277.1V321.2M261.8 235.5V293.9M263.2 238.0V299.1M266.2 272.6V315.8M267.8 238.0V273.3M270.8 238.7V282.9M275.2 240.8V271.8M278.2 244.4V273.1M281.2 258.2V285.6M287.2 224.1V260.3M288.8 229.5V257.2M296.2 194.3V225.5M299.2 204.0V233.9M300.8 195.0V232.0M303.8 129.2V149.1M305.2 138.7V179.2M306.8 145.8V177.4M309.8 142.3V200.7M311.2 155.0V203.3M315.8 158.0V209.2M317.2 132.1V174.9M321.8 148.0V200.2M323.2 130.9V159.8M324.8 138.3V197.2M326.2 138.7V191.2M327.8 147.2V171.7M329.2 118.8V173.7M332.2 130.7V179.1M333.8 110.5V149.0M335.2 122.8V152.2M336.8 104.5V135.3M338.2 130.2V167.2M341.2 122.7V159.5M342.8 93.6V126.1M344.2 105.7V133.4M351.8 83.6V126.0M354.8 107.3V136.1M356.2 86.3V113.8M359.2 82.9V123.5M363.8 113.6V156.6M365.2 91.8V147.9M368.2 156.8V216.4M371.2 194.4V279.2M372.8 156.5V268.7M374.2 202.3V255.2M377.2 175.0V293.3M378.8 190.4V295.2M386.2 230.7V272.2M387.8 240.2V312.4M393.8 267.0V327.2M395.2 291.5V339.9M401.2 264.2V291.5M402.8 267.3V304.4M407.2 258.1V295.6M408.8 240.6V282.2M410.2 245.6V291.5M414.8 227.4V250.5M416.2 221.2V258.6M417.8 229.6V259.0M419.2 238.7V264.4M423.8 261.8V283.2M425.2 233.6V264.7M426.8 261.8V293.5M428.2 248.9V276.6M429.8 270.7V293.2M432.8 246.5V271.3M437.2 260.8V288.1M441.8 299.9V320.3M444.8 291.8V336.3M446.2 308.1V339.3M449.2 282.4V321.5M450.8 278.6V310.5M452.2 294.0V318.0M456.8 266.8V286.9M459.8 268.7V293.1M461.2 267.9V289.7M462.8 267.0V278.4M467.2 259.0V282.5M468.8 262.3V277.6M473.2 240.6V257.5M476.2 227.7V261.4M477.8 237.9V256.1M491.2 168.6V196.9M492.8 177.1V212.6M500.2 183.5V214.7M503.2 179.9V212.8M504.8 204.7V225.7M506.2 188.4V215.7M507.8 198.6V221.1M516.8 214.7V276.2M524.2 166.5V196.3M525.8 173.2V211.6M533.2 164.3V178.5M536.2 180.8V206.8M539.2 201.4V219.3M540.8 183.0V207.0M546.8 198.8V223.0M548.2 204.9V218.6M552.8 203.4V222.6M554.2 186.0V214.4M558.8 177.0V210.8M560.2 174.6V207.2M563.2 154.6V174.8M564.8 151.3V182.5M573.8 144.4V165.8M584.2 120.4V142.3M585.8 121.3V133.7M590.2 140.0V181.9M591.8 153.4V182.6M596.2 175.1V196.8M597.8 183.2V213.6M599.2 204.9V239.4M602.2 221.4V240.3M605.2 205.3V234.8M606.8 204.3V238.5M612.8 206.9V235.8M618.8 250.0V281.9M620.2 278.6V297.9M621.8 272.2V290.6M623.2 284.3V300.6M624.8 276.5V304.1M629.2 294.1V323.5M630.8 303.7V323.8M632.2 312.6V335.0M633.8 308.4V332.2M635.2 320.5V350.3M642.8 355.1V374.1M644.2 345.0V374.9M647.2 365.1V392.6M648.8 379.5V398.8M653.2 421.5V442.3M656.2 435.2V447.7M657.8 441.4V466.9M663.8 460.2V483.4M665.2 458.1V492.4M666.8 459.2V494.3M686.2 466.6V494.7M687.8 477.2V495.4M690.8 467.6V483.5M692.2 466.9V484.4M698.2 485.1V499.8M699.8 491.4V516.2M705.8 501.0V522.1M707.2 515.9V533.2M710.2 516.0V529.8M714.8 525.3V545.2M722.2 566.5V590.3M729.8 567.5V597.4M731.2 565.7V589.3M732.8 554.3V583.5M738.8 568.4V597.9M740.2 588.4V611.9M743.2 590.7V629.6M749.2 608.1V676.5M753.8 609.2V645.2M755.2 611.4V638.3M756.8 624.2V647.6M761.2 624.6V648.8M762.8 608.5V639.2M764.2 629.6V646.4M767.2 614.3V629.5M768.8 618.9V645.0M770.2 608.2V639.0M771.8 603.3V628.2M776.2 592.6V606.5M777.8 597.0V620.5M779.2 589.7V611.2M783.8 591.2V613.9M788.2 593.2V603.2M789.8 588.4V611.7M792.8 593.5V606.6M794.2 584.5V594.6M797.2 597.1V608.7M798.8 595.3V608.2M800.2 589.9V600.0M801.8 593.6V614.3M803.2 588.2V604.8M806.2 604.2V621.5M807.8 595.1V613.0M809.2 599.3V615.5M810.8 600.7V626.2M812.2 604.3V623.8M816.8 629.2V648.8M818.2 632.1V659.2M824.2 649.1V670.2M828.8 686.4V700.8M830.2 680.3V697.0M842.2 695.3V713.7M843.8 684.6V707.7M845.2 692.8V705.1M846.8 696.3V711.1M848.2 692.4V714.9M854.2 703.1V716.3M857.2 708.9V732.0M858.8 716.2V732.2M860.2 713.3V724.3M866.2 714.3V725.1M870.8 711.5V732.0M876.8 701.8V721.3M879.8 694.3V711.4M881.2 705.2V731.4M882.8 690.8V715.5M888.8 709.3V724.1M890.2 699.1V714.0M900.8 709.0V732.1M902.2 713.2V736.1M905.2 709.8V732.4M906.8 714.0V731.5M908.2 697.2V715.1M909.8 700.2V716.3M915.8 693.7V712.0M917.2 692.4V723.4M921.8 704.6V729.2M927.8 719.5V734.8M929.2 720.2V737.6M932.2 731.5V745.5M933.8 727.9V743.2M942.8 739.1V758.3M950.2 743.5V760.0M951.8 744.6V756.0M953.2 736.9V750.9M954.8 740.9V753.3M956.2 745.7V753.8M959.2 741.6V761.0M963.8 752.6V774.3M977.2 762.7V772.5M978.8 757.6V769.7M980.2 762.5V778.9M981.8 769.6V777.5M984.8 767.4V780.1M986.2 773.4V780.8M993.8 761.8V774.5M995.2 760.8V775.5M996.8 757.3V768.4M1001.2 758.2V769.0M1004.2 752.3V759.9M1014.8 728.8V743.9M1017.8 722.0V740.0M1019.2 733.1V749.3M1020.8 725.0V736.7M1023.8 732.0V752.9M1025.2 730.5V753.5M1034.2 745.7V757.0M1035.8 750.6V759.8M1037.2 749.7V759.5M1038.8 744.8V757.7M1040.2 740.4V750.7M1043.2 737.2V748.2M1044.8 734.9V751.3M1049.2 725.9V747.7M1050.8 736.6V761.2M1052.2 732.1V750.4M1053.8 737.0V748.0M1055.2 743.5V765.7M1056.8 748.7V769.6M1059.8 753.9V767.8M1061.2 760.7V774.0M1062.8 753.8V764.6M1064.2 758.3V770.4M1065.8 763.3V775.3M1068.8 754.7V769.7M1070.2 750.7V766.9M1071.8 755.5V763.5M1073.2 752.8V767.1M1085.2 743.3V755.1M1089.8 740.9V750.4M1095.8 729.7V741.1M1101.8 674.0V735.0M1103.2 679.7V719.3M1106.2 694.5V722.0M1110.8 707.2V722.8M1115.2 706.5V721.4M1119.8 719.1V738.8M1122.8 726.8V742.2M1124.2 732.3V744.7M1125.8 737.5V752.0M1127.2 736.0V752.3M1128.8 739.5V758.6M1134.8 749.0V765.6M1136.2 758.9V772.1M1142.2 754.0V770.5M1145.2 824.8V831.4M1148.2 824.7V830.3M1149.8 823.2V832.1M1151.2 824.1V829.3M1154.2 820.4V828.5M1157.2 821.1V827.6M1158.8 822.4V828.3M1161.8 818.5V827.4M1164.8 818.8V828.3M1169.2 817.5V825.6M1172.2 817.6V826.1M1175.2 815.8V822.8M1178.2 815.4V825.0M1179.8 816.7V824.5M1181.2 819.1V824.9M1184.2 819.0V824.4M1185.8 819.5V825.0M1187.2 819.1V824.4M1188.8 820.8V829.4M1190.2 819.5V826.6M1191.8 820.1V828.3M1197.8 821.3V827.2M1202.2 809.0V826.1M1203.8 818.6V827.0M1211.2 822.5V829.7M1212.8 822.9V829.5M1214.2 823.2V833.1M1217.2 824.6V832.0M1218.8 824.9V830.1M1220.2 824.5V832.8M1229.2 828.0V836.5M1232.2 827.1V835.0M1241.2 824.2V829.4M1242.8 824.3V829.9M1244.2 822.6V829.9M1247.2 819.4V827.8M1248.8 820.1V828.5M1250.2 819.9V825.6M1251.8 820.1V826.0M1254.8 817.1V822.5M1257.8 814.6V821.5M1259.2 814.9V820.0M1265.2 804.0V818.0M1268.2 814.5V822.1M1271.2 815.9V822.7M1272.8 818.7V823.8M1277.2 815.1V823.1M1278.8 817.9V824.7M1286.2 815.6V825.0M1287.8 816.6V826.0M1289.2 817.0V825.8M1292.2 817.2V824.7M1293.8 815.8V825.4M1302.8 821.4V829.0M1305.8 819.9V828.7M1310.2 826.3V831.4M1311.8 823.6V831.7M1313.2 822.3V831.8M1317.8 825.2V831.5M1319.2 823.9V832.1M1320.8 826.9V832.7M1329.8 826.5V832.3M1331.2 825.4V830.8M1334.2 825.8V831.0M1340.2 825.7V833.2M1349.2 833.6V839.1M1352.2 836.0V841.0M1353.8 835.7V843.3M1355.2 838.4V844.6M1356.8 838.6V846.0M1365.8 839.2V846.5M1367.2 841.5V848.1M1368.8 842.3V847.8M1371.8 840.4V846.2M1373.2 841.8V847.6M1374.8 841.2V847.9M1379.2 842.7V847.6M1380.8 841.2V846.0M1385.2 841.1V847.4M1395.8 838.4V842.8M1397.2 839.9V844.2M1401.8 838.2V843.5M1404.8 837.3V843.3M1409.2 838.2V843.7M1410.8 837.3V841.5M1412.2 836.4V841.7M1413.8 836.3V843.5M1415.2 834.4V841.9M1416.8 834.3V841.8M1418.2 837.0V843.2M1419.8 835.6V840.7M1422.8 836.3V841.9M1424.2 834.8V839.4M1425.8 834.8V840.0M1428.8 835.7V842.9M1430.2 833.5V840.1M1431.8 833.8V840.7M1433.2 836.3V840.7M1434.8 834.0V839.2M1436.2 834.6V839.0M1439.2 835.3V840.2M1440.8 834.9V840.3M1442.2 832.4V838.2M1443.8 831.9V837.1M1445.2 832.3V839.5M1448.2 833.0V838.5M1449.8 833.4V838.7M1452.8 833.8V838.2M1454.2 833.1V838.5M1455.8 836.2V841.2M1457.2 834.9V842.7M1460.2 838.5V844.0M1461.8 838.4V844.8M1463.2 840.7V845.0M1464.8 842.1V848.6M1467.8 841.0V846.7M1475.2 841.4V848.3M1476.8 840.7V847.7M1478.2 842.9V849.9M1479.8 842.6V849.9M1482.8 844.0V849.0M1484.2 843.1V848.0M1485.8 843.7V849.2M1490.2 841.3V847.2M1493.2 842.5V849.9M1494.8 842.3V849.1M1496.2 841.2V847.9M1512.8 858.3V862.2M1520.2 859.2V863.0M1524.8 860.1V862.3M1526.2 860.1V862.6M1529.2 859.4V863.9M1530.8 860.2V864.4M1532.2 860.4V864.4M1533.8 861.2V863.9M1535.2 860.9V864.5M1536.8 861.3V864.8M1538.2 862.4V864.6M1542.8 862.2V866.1M1544.2 863.7V866.2M1557.8 865.7V868.6M1565.2 865.2V869.3M1574.2 865.8V868.8M1575.8 865.7V868.8M1577.2 866.1V869.5M1578.8 865.7V870.1M1580.2 867.0V869.1M1581.8 865.9V868.9M1584.8 865.8V869.0M1586.2 866.8V870.0M1589.2 866.5V869.0M1590.8 866.2V870.7M1593.8 865.9V869.4M1595.2 865.7V868.9M1596.8 866.4V869.2M1598.2 866.1V868.6M1605.8 865.1V869.5M1607.2 865.7V868.3M1610.2 865.5V867.6M1611.8 865.4V869.2M1613.2 865.1V867.5M1614.8 864.5V868.3M1616.2 865.8V868.1M1617.8 864.5V868.7M1620.8 864.9V867.7M1622.2 864.6V868.7M1626.8 864.9V867.1M1628.2 864.7V868.3M1629.8 864.9V867.2M1631.2 864.2V867.3M1632.8 863.8V867.9M1634.2 863.7V867.4M1635.8 862.7V867.1M1640.2 862.1V866.0M1641.8 863.1V865.7M1643.2 862.2V866.2M1644.8 861.3V865.5M1646.2 860.8V865.3M1647.8 860.8V865.2M1656.8 859.6V863.4M1662.8 859.9V862.2M1664.2 858.0V862.2M1668.8 858.9V861.2M1674.8 856.2V860.3M1677.8 856.7V859.9M1679.2 855.9V858.5M1682.2 855.8V858.4M1683.8 856.0V859.2M1685.2 855.5V859.4M1686.8 857.0V859.2M1689.8 856.8V860.0M1692.8 856.8V860.0M1694.2 857.9V860.0M1695.8 857.7V861.0M1697.2 857.5V862.0M1698.8 858.3V860.7M1700.2 858.3V860.8M1701.8 858.3V862.2M1709.2 859.8V861.8M1710.8 859.0V862.6M1718.2 859.5V864.0M1722.8 860.0V863.3M1724.2 860.4V864.5M1734.8 861.2V863.8M1739.2 860.3V864.7M1746.8 860.5V864.8M1749.8 860.2V864.0M1754.2 860.8V864.1M1755.8 861.8V864.0M1757.2 860.7V864.6M1764.8 861.8V864.3M1766.2 861.6V864.2" stroke="#ffffff" stroke-width="1.7"/>
<rect x="722.5" y="668.5" width="381" height="29" fill="none" stroke="#ffffff" stroke-width="4"/>
<rect x="1139.5" y="827.25" width="310" height="8.5" fill="none" stroke="#ffffff" stroke-width="4.5"/>
<path d="M1504 855H2015" stroke="#4caf50" stroke-width="4.8" stroke-dasharray="21 23"/>
<text x="0" y="0" font-family="'DejaVu Sans', sans-serif" font-weight="bold" font-style="normal" font-size="100" fill="#1d9a1d" transform="matrix(0.2692 0 0 0.6164 408.04 203.00)">1</text>
<text x="0" y="0" font-family="'Liberation Serif', serif" font-weight="normal" font-style="italic" font-size="100" fill="#1d9a1d" stroke="#1d9a1d" stroke-width="1.5" stroke-linejoin="round" transform="matrix(0.8333 0 0 0.6418 488.00 334.36)">2</text>
<text x="0" y="0" font-family="'Liberation Serif', serif" font-weight="normal" font-style="italic" font-size="100" fill="#1d9a1d" stroke="#1d9a1d" stroke-width="1.5" stroke-linejoin="round" transform="matrix(0.8511 0 0 0.8955 787.00 479.10)">3</text>
<text x="0" y="0" font-family="'Liberation Serif', serif" font-weight="normal" font-style="italic" font-size="100" fill="#1d9a1d" stroke="#1d9a1d" stroke-width="1.5" stroke-linejoin="round" transform="matrix(1.0625 0 0 0.7424 1016.00 811.26)">4</text>
<text x="0" y="0" font-family="'Liberation Serif', serif" font-weight="normal" font-style="italic" font-size="100" fill="#1d9a1d" transform="matrix(0.7391 0 0 1.0455 1198.26 747.95)">5</text>
<text x="0" y="0" font-family="'Liberation Serif', serif" font-weight="normal" font-style="italic" font-size="100" fill="#1d9a1d" stroke="#1d9a1d" stroke-width="1.5" stroke-linejoin="round" transform="matrix(0.7174 0 0 0.5882 1381.13 824.82)">6</text>
<text x="0" y="0" font-family="'Liberation Serif', serif" font-weight="normal" font-style="italic" font-size="100" fill="#1d9a1d" transform="translate(1620.0 826.5) skewX(-8) translate(-1620.0 -826.5) matrix(0.6809 0 0 0.9559 1602.64 857.09)">8</text>
<text x="0" y="0" font-family="'Liberation Serif', serif" font-weight="normal" font-style="italic" font-size="100" fill="#1d9a1d" stroke="#1d9a1d" stroke-width="1.5" stroke-linejoin="round" transform="matrix(0.7234 0 0 0.6364 1458.66 899.36)">7</text>
<text x="0" y="0" font-family="'Liberation Sans', 'Noto Sans CJK SC', sans-serif" font-weight="500" font-style="normal" font-size="100" fill="#1d9a1d" transform="translate(1442.5 605.0) skewX(-12) translate(-1442.5 -605.0) matrix(0.8333 0 0 1.1064 1400.83 647.04)">背</text>
<ellipse cx="1254" cy="771" rx="15" ry="9" fill="none" stroke="#1d9a1d" stroke-width="4" transform="rotate(-10 1254 771)"/>
<path d="M1252 765 C1290 700 1330 640 1385 630 C1392 630 1398 634 1400 640" fill="none" stroke="#1d9a1d" stroke-width="3.2" stroke-linecap="round"/>
<path d="M1424 660 C1470 672 1500 730 1497 790 L1494 835" fill="none" stroke="#1d9a1d" stroke-width="4" stroke-linecap="round"/>
<path d="M1494 836 C1484 828 1472 842 1476 856 C1480 866 1496 860 1499 846 C1500 838 1496 834 1490 834" fill="none" stroke="#1d9a1d" stroke-width="4" stroke-linecap="round"/>
<path d="M1377 849H2015" stroke="#ffffff" stroke-width="2.5" stroke-dasharray="10 11.8"/>
<path d="M1630 865.5H2015" stroke="#ffffff" stroke-width="2.5" stroke-dasharray="10 12"/>
</svg>
<!-- header -->
<div class="a" style="left:-3px;top:2px;width:36px;height:36px;border-radius:50%;background:#f36b2d"></div>
<svg class="a" style="left:0;top:5px" width="30" height="30" viewBox="-15 -15 30 30"><g fill="#fff"><rect x="-1.1" y="-10.3" width="2.2" height="3" transform="rotate(0.0)"/><rect x="-1.1" y="-10.3" width="2.2" height="3" transform="rotate(22.5)"/><rect x="-1.1" y="-10.3" width="2.2" height="3" transform="rotate(45.0)"/><rect x="-1.1" y="-10.3" width="2.2" height="3" transform="rotate(67.5)"/><rect x="-1.1" y="-10.3" width="2.2" height="3" transform="rotate(90.0)"/><rect x="-1.1" y="-10.3" width="2.2" height="3" transform="rotate(112.5)"/><rect x="-1.1" y="-10.3" width="2.2" height="3" transform="rotate(135.0)"/><rect x="-1.1" y="-10.3" width="2.2" height="3" transform="rotate(157.5)"/><rect x="-1.1" y="-10.3" width="2.2" height="3" transform="rotate(180.0)"/><rect x="-1.1" y="-10.3" width="2.2" height="3" transform="rotate(202.5)"/><rect x="-1.1" y="-10.3" width="2.2" height="3" transform="rotate(225.0)"/><rect x="-1.1" y="-10.3" width="2.2" height="3" transform="rotate(247.5)"/><rect x="-1.1" y="-10.3" width="2.2" height="3" transform="rotate(270.0)"/><rect x="-1.1" y="-10.3" width="2.2" height="3" transform="rotate(292.5)"/><rect x="-1.1" y="-10.3" width="2.2" height="3" transform="rotate(315.0)"/><rect x="-1.1" y="-10.3" width="2.2" height="3" transform="rotate(337.5)"/><circle r="8.4"/></g><circle r="5.2" fill="#f36b2d"/></svg>
<div class="a" style="left:43px;top:5.5px;font-size:31.5px;letter-spacing:-0.8px;color:#d8dae2">LPSN · 1D · NASDAQ</div>
<div class="a" style="left:371px;top:2px;width:40px;height:36px;background:#182e31;border-radius:18px 0 0 18px"></div>
<div class="a" style="left:411px;top:2px;width:40px;height:36px;background:#521938;border-radius:0 18px 18px 0"></div>
<div class="a" style="left:386px;top:12px;width:16px;height:16px;border-radius:50%;background:#089c81"></div>
<div class="a" style="left:419px;top:3px;font-size:33px;color:#d4246a;font-weight:bold">≈</div>
<div class="a" style="left:483px;top:8px;font-size:25px;letter-spacing:1.5px"><span style="color:#b2b5be">O</span><span style="color:#fff">1.16</span></div>
<div class="a" style="left:574px;top:8px;font-size:25px;letter-spacing:1.5px"><span style="color:#b2b5be">H</span><span style="color:#fff">1.18</span></div>
<div class="a" style="left:663px;top:8px;font-size:25px;letter-spacing:1.5px"><span style="color:#b2b5be">L</span><span style="color:#fff">0.7816</span></div>
<div class="a" style="left:780px;top:8px;font-size:25px;letter-spacing:1.5px"><span style="color:#b2b5be">C</span><span style="color:#fff">0.8000</span></div>
<div class="a" style="left:901px;top:8px;font-size:25px;letter-spacing:1.5px;color:#fff">−0.4100</div>
<div class="a" style="left:1013px;top:8px;font-size:25px;letter-spacing:1.5px;color:#fff">(−33.88%)</div>
<!-- sell / buy -->
<div class="a" style="left:-10px;top:53px;width:105px;height:67px;border:2.5px solid #e8434f;border-radius:11px"></div>
<div class="a" style="left:0;top:62px;width:90px;text-align:center;font-size:23px;font-weight:bold;color:#f0505c;letter-spacing:2px;text-indent:2px">0.80</div>
<div class="a" style="left:0;top:91px;width:90px;text-align:center;font-size:21px;color:#f0505c;letter-spacing:1px">SELL</div>
<div class="a" style="left:111px;top:76px;font-size:20.5px;color:#c8cad2;letter-spacing:1px">0.01</div>
<div class="a" style="left:172px;top:53px;width:99px;height:67px;border:2.5px solid #2f5fe0;border-radius:11px"></div>
<div class="a" style="left:172px;top:62px;width:99px;text-align:center;font-size:23px;font-weight:bold;color:#3b6cf0;letter-spacing:2px;text-indent:2px">0.81</div>
<div class="a" style="left:172px;top:91px;width:99px;text-align:center;font-size:21px;color:#3b6cf0;letter-spacing:1px">BUY</div>
<div class="a" style="left:-8px;top:133px;width:70px;height:40px;border:1.5px solid #363a46;border-radius:7px"></div>
<svg class="a" style="left:9px;top:146px" width="20" height="14"><path d="M2 3L9 10L16 3" fill="none" stroke="#d1d4dc" stroke-width="2.8"/></svg>
<div class="a" style="left:37px;top:141px;font-size:25px;color:#d1d4dc">3</div>
<!-- top right button -->
<div class="a" style="left:1957px;top:-8px;width:48px;height:52px;background:#1c4fd8;border-radius:8px"></div>
<svg class="a" style="left:1970px;top:9px" width="24" height="24" viewBox="0 0 24 24"><path d="M2 9V6.5Q2 2 6.5 2H17.5Q22 2 22 6.5V9M2 15V17.5Q2 22 6.5 22H17.5Q22 22 22 17.5V15" fill="none" stroke="#fff" stroke-width="2" stroke-linecap="round"/></svg>
<!-- price axis -->
<div class="pl" style="top:-11px">80.00</div>
<div class="pl" style="top:97px">70.00</div>
<div class="pl" style="top:206px">60.00</div>
<div class="pl" style="top:316px">50.00</div>
<div class="pl" style="top:425px">40.00</div>
<div class="pl" style="top:534px">30.00</div>
<div class="pl" style="top:644px">20.00</div>
<!-- right labels -->
<div class="rl" style="top:746px;width:118px;height:34px;background:#f05350;color:#fff;border-radius:0 5px 5px 0;padding-top:5px">9.821M</div>
<div class="rl" style="top:780px;width:79px;height:34px;background:#fff;color:#131722;border-radius:0 5px 5px 0;padding-top:5px">2.33</div>
<div class="rl" style="top:814px;width:79px;height:33px;background:#4caf50;color:#fff;border-radius:0 5px 5px 0;padding-top:5px">1.75</div>
<div class="rl" style="top:848px;width:130px;height:62px;background:#fff;color:#000;padding-top:2px;line-height:28px;border-radius:0 5px 5px 0">0.8000<br><span style="color:#4d5059">01:23:15</span></div>
<div class="rl" style="top:910px;width:110px;height:34px;background:#fff;color:#131722;border-radius:0 5px 5px 0;padding-top:5px">0.7199</div>
<div class="a" style="left:2015px;top:944px;width:118px;height:4px;background:#787b86;border-radius:0 0 4px 0"></div>
<!-- x axis -->
<div class="xl" style="left:122px">Jul</div>
<div class="xl b" style="left:314px">2021</div>
<div class="xl" style="left:500px">Jul</div>
<div class="xl b" style="left:692px">2022</div>
<div class="xl" style="left:878px">Jul</div>
<div class="xl b" style="left:1069px">2023</div>
<div class="xl" style="left:1255px">Jul</div>
<div class="xl b" style="left:1444px">2024</div>
<div class="xl" style="left:1630px">Jul</div>
<div class="xl b" style="left:1822px">2025</div>
<div class="a" style="left:1990px;top:966px;font-size:24px;color:#b2b5be;width:23px;overflow:hidden">Jul</div>
<svg class="a" style="left:2071px;top:963px" width="31" height="27" viewBox="0 0 34 30"><path d="M9 2H25L33 15L25 28H9L1 15Z" fill="none" stroke="#b2b5be" stroke-width="2"/><circle cx="17" cy="15" r="4.5" fill="none" stroke="#b2b5be" stroke-width="2"/></svg>
<!-- TradingView logo -->
<svg class="a" style="left:0;top:886px" width="70" height="40" viewBox="0 0 70 40"><path d="M3 4.3H27V34H15V15H3Z" fill="#d3d5dd"/><circle cx="36.8" cy="9.4" r="5.6" fill="#d3d5dd"/><path d="M46 4.3H62.6L52.3 34H36.5Z" fill="#d3d5dd"/></svg>
<div class="a" style="left:77px;top:886px;font-size:41px;font-weight:bold;color:#d3d5dd;letter-spacing:0.1px">TradingView</div>
</body></html>
